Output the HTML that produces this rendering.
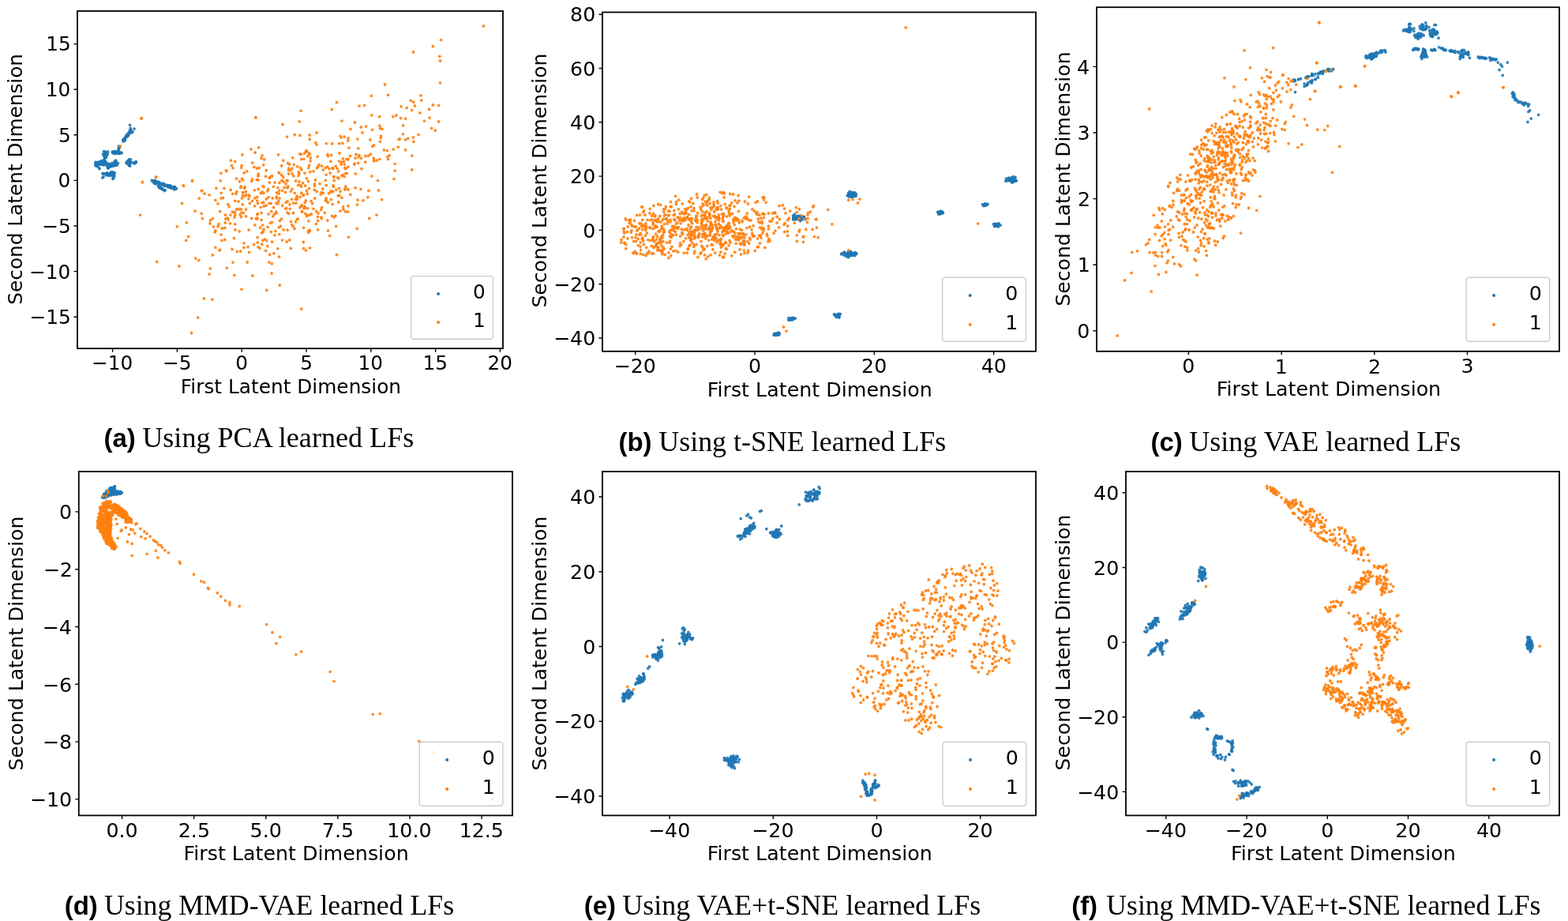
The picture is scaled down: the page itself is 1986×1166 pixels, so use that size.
<!DOCTYPE html><html><head><meta charset="utf-8"><style>html,body{margin:0;padding:0;background:#fff;}svg{display:block;}.t{font-family:"DejaVu Sans","Liberation Sans",sans-serif;fill:#000;}.cb{font-family:"Liberation Sans",sans-serif;font-weight:bold;fill:#000;}.cs{font-family:"Liberation Serif",serif;fill:#000;}</style></head><body>
<svg width="1986" height="1166" viewBox="0 0 1986 1166">
<rect width="1986" height="1166" fill="#fff"/>
<g><g stroke="#1f77b4" stroke-width="3.8" stroke-linecap="round" fill="none" stroke-opacity="0.9"><path d="M160.3 171.4h0M156.4 177.4h0M163.6 169.2h0M157.1 178.0h0M156.2 179.1h0M164.5 158.3h0M151.4 186.5h0M150.1 188.6h0M144.4 191.9h0M150.9 193.7h0M142.4 192.2h0M132.1 196.4h0M130.5 195.2h0M134.3 193.1h0M132.6 197.4h0M134.5 199.5h0M127.8 205.3h0M126.5 208.0h0M128.9 208.2h0M123.6 205.5h0M133.2 204.7h0M130.4 206.2h0M122.4 210.6h0M149.5 206.8h0M140.2 210.3h0M148.8 206.2h0M141.0 210.3h0M145.4 207.2h0M145.9 205.5h0M137.2 213.1h0M137.9 210.9h0M145.0 222.6h0M130.4 219.5h0M144.0 220.7h0M140.1 218.5h0M139.5 220.8h0M142.7 222.7h0M164.6 206.1h0M168.5 206.0h0M165.7 206.1h0M162.5 203.3h0M160.0 206.2h0M162.6 207.8h0M197.4 231.8h0M216.8 236.7h0M220.7 239.8h0M219.4 237.1h0M201.8 232.7h0M196.0 231.2h0M211.8 235.4h0M215.3 234.6h0M208.0 233.0h0M212.0 236.1h0M222.3 239.3h0M201.8 237.3h0M202.1 236.9h0M204.3 238.3h0"/><path d="M158.0 177.0h0M160.2 173.1h0M163.8 167.8h0M161.5 171.0h0M163.2 170.2h0M165.2 162.4h0M150.7 188.0h0M149.4 191.7h0M143.0 193.6h0M152.0 192.9h0M147.0 193.9h0M133.2 193.5h0M133.7 199.1h0M133.1 191.9h0M132.8 199.7h0M129.9 203.7h0M128.3 208.2h0M132.0 202.7h0M130.5 203.8h0M123.9 205.6h0M123.3 208.4h0M132.4 208.0h0M126.1 213.6h0M145.8 207.0h0M139.4 209.0h0M142.5 210.3h0M146.0 207.7h0M139.5 211.3h0M146.6 203.8h0M136.8 209.8h0M138.0 210.2h0M134.4 221.8h0M138.1 222.5h0M135.4 221.7h0M139.4 222.1h0M141.1 220.3h0M143.6 224.9h0M164.3 206.4h0M172.0 205.8h0M161.0 206.1h0M160.6 204.8h0M161.0 207.0h0M200.6 231.7h0M200.1 231.7h0M203.4 232.3h0M220.6 238.0h0M213.0 234.9h0M214.5 236.5h0M215.9 236.0h0M214.8 237.2h0M197.1 231.2h0M208.3 235.1h0M218.8 237.9h0M216.5 238.1h0M200.7 235.4h0M202.1 237.9h0"/><path d="M159.1 174.1h0M157.2 177.7h0M161.4 170.6h0M156.5 178.0h0M157.9 176.8h0M170.0 163.1h0M150.5 185.2h0M146.2 192.3h0M147.6 192.1h0M153.9 193.6h0M145.9 192.5h0M132.8 198.6h0M131.5 191.8h0M135.9 196.0h0M133.1 196.9h0M127.7 204.4h0M132.2 205.3h0M130.8 206.4h0M132.7 207.8h0M122.8 208.8h0M121.0 205.5h0M133.9 204.6h0M125.4 212.5h0M136.7 207.6h0M138.1 207.4h0M148.2 209.2h0M137.4 209.2h0M138.3 210.5h0M145.3 205.5h0M135.9 209.8h0M136.6 212.4h0M140.6 221.4h0M140.4 220.0h0M132.4 220.1h0M140.9 217.8h0M136.4 219.9h0M143.3 222.5h0M164.3 205.2h0M165.3 204.7h0M171.5 205.3h0M163.1 203.8h0M160.7 206.1h0M218.6 237.8h0M193.1 228.8h0M195.1 231.7h0M200.5 230.2h0M196.1 229.8h0M195.7 230.7h0M215.1 236.7h0M197.4 231.4h0M195.2 229.7h0M211.8 234.3h0M210.0 235.4h0M208.7 235.0h0M203.9 237.9h0M201.5 236.7h0"/><path d="M161.2 170.1h0M158.5 177.6h0M155.9 176.8h0M161.4 172.3h0M164.2 165.5h0M166.6 167.9h0M148.9 192.2h0M152.3 194.1h0M153.8 193.4h0M151.4 194.2h0M142.8 193.6h0M133.6 196.0h0M132.5 199.3h0M133.3 193.4h0M134.5 193.9h0M124.4 206.0h0M135.1 206.7h0M129.7 206.4h0M122.4 207.0h0M126.0 205.2h0M128.1 205.5h0M128.0 206.4h0M142.0 206.4h0M145.3 207.9h0M140.3 209.8h0M140.2 207.8h0M144.5 209.7h0M146.5 206.3h0M144.1 208.4h0M136.8 210.1h0M137.1 220.7h0M143.8 219.6h0M136.2 219.7h0M132.7 219.8h0M130.2 220.0h0M143.0 226.6h0M130.9 224.1h0M170.5 207.0h0M172.2 204.9h0M163.3 202.3h0M163.8 202.0h0M164.7 210.1h0M197.5 232.8h0M202.1 232.9h0M200.7 231.3h0M200.7 230.8h0M205.7 232.2h0M223.4 238.7h0M221.8 237.5h0M205.9 233.8h0M221.3 236.5h0M202.7 231.8h0M197.9 230.2h0M205.9 232.5h0M204.9 238.0h0M208.9 240.3h0"/><path d="M157.0 177.1h0M156.7 177.6h0M165.7 164.5h0M160.0 173.2h0M158.2 176.3h0M162.5 168.6h0M150.9 187.1h0M150.8 194.4h0M150.5 192.6h0M145.7 194.7h0M150.3 192.2h0M131.9 197.6h0M136.7 192.2h0M133.9 193.4h0M136.1 195.1h0M123.8 208.5h0M132.2 202.9h0M131.2 209.0h0M120.8 207.3h0M131.4 204.8h0M129.1 206.8h0M124.2 207.5h0M138.5 208.6h0M135.3 209.9h0M138.0 210.9h0M136.5 208.6h0M143.5 209.8h0M146.6 203.2h0M145.7 204.3h0M137.0 211.7h0M140.7 220.7h0M136.4 221.2h0M143.3 217.8h0M141.1 219.1h0M135.8 219.2h0M144.0 225.1h0M129.8 225.1h0M163.6 205.5h0M170.9 205.8h0M165.5 201.8h0M162.7 204.9h0M164.2 209.6h0M218.8 236.9h0M221.0 237.2h0M213.1 236.5h0M193.1 229.3h0M217.4 237.8h0M203.3 233.3h0M197.5 229.6h0M206.4 233.7h0M196.4 228.5h0M206.0 233.6h0M221.1 238.7h0M192.3 228.3h0M203.0 236.9h0M206.4 239.8h0"/><path d="M166.5 166.5h0M158.8 174.3h0M159.3 172.9h0M162.1 172.1h0M157.8 174.8h0M168.0 166.9h0M150.0 190.4h0M144.7 191.6h0M148.7 194.1h0M149.4 193.4h0M147.5 193.2h0M133.2 199.1h0M132.8 199.7h0M131.6 195.6h0M135.1 194.8h0M124.1 208.7h0M123.1 210.2h0M126.5 208.2h0M128.3 204.0h0M130.7 203.4h0M128.4 206.9h0M121.0 209.7h0M142.4 209.2h0M145.0 205.0h0M146.2 209.4h0M138.3 208.2h0M139.7 210.1h0M145.2 208.0h0M136.5 209.2h0M139.3 209.8h0M137.5 221.3h0M145.4 218.9h0M135.3 219.1h0M139.3 220.2h0M138.0 221.1h0M142.8 223.0h0M162.5 205.7h0M164.4 205.2h0M172.3 204.9h0M164.0 201.9h0M164.3 209.4h0M163.6 209.5h0M194.4 229.2h0M195.9 230.7h0M215.8 235.7h0M200.9 230.9h0M216.3 236.7h0M195.6 230.6h0M196.1 232.2h0M208.4 234.2h0M215.2 236.1h0M195.4 230.3h0M220.7 238.1h0M208.6 241.5h0M200.6 235.2h0M205.2 239.8h0"/></g><g stroke="#ff7f0e" stroke-width="3.8" stroke-linecap="round" fill="none" stroke-opacity="0.9"><path d="M303.2 292.9h0M457.0 239.6h0M423.1 228.5h0M356.6 277.1h0M404.0 208.6h0M398.8 251.0h0M413.2 250.8h0M382.3 267.8h0M416.8 213.5h0M343.8 267.6h0M256.4 276.7h0M333.9 256.1h0M439.3 219.8h0M331.8 309.2h0M438.0 238.4h0M436.1 223.6h0M380.0 262.8h0M390.7 212.6h0M388.8 273.8h0M327.0 222.7h0M311.8 246.9h0M368.5 280.3h0M413.3 254.4h0M319.6 206.2h0M419.2 242.0h0M387.5 254.0h0M363.2 306.2h0M421.9 212.9h0M299.6 265.1h0M380.0 171.4h0M333.0 235.7h0M334.0 290.4h0M331.1 200.5h0M376.7 210.9h0M272.9 292.0h0M385.3 261.5h0M305.7 212.3h0M306.1 209.7h0M370.4 213.1h0M412.5 228.3h0M312.7 216.9h0M392.4 313.8h0M407.7 262.6h0M309.5 238.3h0M357.7 241.3h0M337.4 252.0h0M307.3 258.9h0M318.7 229.4h0M340.3 249.7h0M332.1 196.9h0M347.9 297.8h0M333.9 236.7h0M327.0 312.8h0M452.9 176.1h0M381.8 201.6h0M363.9 237.5h0M330.4 244.5h0M325.6 213.2h0M277.1 283.7h0M433.0 250.3h0M392.4 292.6h0M384.6 314.5h0M422.9 223.8h0M373.0 289.5h0M297.9 290.9h0M288.3 276.2h0M429.8 247.5h0M473.6 203.9h0M377.4 277.2h0M307.6 227.9h0M419.0 204.3h0M457.4 200.3h0M385.6 194.0h0M322.0 211.5h0M335.3 302.9h0M381.5 195.3h0M413.2 234.7h0M407.3 276.7h0M338.9 241.9h0M434.9 221.4h0M473.7 203.0h0M422.0 234.8h0M448.8 207.9h0M533.7 127.1h0M520.4 127.5h0M483.9 163.3h0M459.0 168.0h0M544.0 149.1h0M523.5 66.0h0M533.0 120.9h0M426.5 129.7h0M521.7 139.6h0M523.9 179.5h0M198.7 331.5h0M255.5 241.8h0M354.3 361.1h0M467.8 276.5h0M247.8 327.1h0M344.1 346.1h0M491.6 201.5h0M508.1 134.8h0M444.0 163.4h0M243.4 228.7h0M283.9 238.3h0M299.0 245.4h0M297.6 204.3h0"/><path d="M407.5 210.1h0M353.1 245.2h0M278.0 316.8h0M362.7 263.6h0M413.2 221.3h0M380.2 249.3h0M382.9 268.2h0M356.6 221.7h0M255.3 270.3h0M390.4 292.7h0M322.7 250.8h0M313.2 332.0h0M280.2 297.1h0M432.2 174.1h0M469.4 195.2h0M325.8 271.5h0M415.0 195.5h0M316.4 257.4h0M307.4 247.6h0M351.9 314.8h0M294.7 245.4h0M325.4 227.5h0M259.0 245.2h0M292.2 240.5h0M269.3 276.9h0M276.0 286.7h0M308.0 243.6h0M326.6 257.4h0M350.5 244.0h0M318.7 276.5h0M332.9 304.3h0M330.3 262.3h0M392.9 217.7h0M362.1 232.7h0M281.9 288.8h0M380.7 234.5h0M400.7 267.7h0M315.1 247.1h0M431.1 172.4h0M299.8 242.7h0M373.2 244.3h0M297.5 269.0h0M406.8 265.5h0M366.8 304.0h0M478.5 228.6h0M310.1 248.2h0M356.6 209.9h0M288.9 258.7h0M341.2 257.3h0M389.3 245.5h0M327.7 186.8h0M360.2 237.5h0M350.1 269.9h0M376.3 277.7h0M423.2 275.0h0M266.4 279.0h0M402.6 290.9h0M401.6 212.7h0M366.1 213.2h0M359.0 230.0h0M325.7 254.1h0M397.1 216.8h0M315.6 319.6h0M434.8 265.1h0M438.9 201.6h0M440.7 268.2h0M272.9 313.4h0M370.0 219.9h0M344.5 222.8h0M411.3 269.5h0M281.0 289.2h0M305.2 235.8h0M437.4 267.9h0M425.6 286.4h0M460.0 254.0h0M453.0 253.2h0M466.7 197.2h0M421.2 258.6h0M440.7 201.8h0M421.0 213.0h0M427.1 213.4h0M470.9 222.9h0M471.5 164.3h0M471.8 185.4h0M516.7 175.3h0M463.6 160.1h0M473.2 200.3h0M462.9 197.5h0M556.8 71.5h0M470.4 121.3h0M420.2 138.5h0M531.9 142.9h0M521.7 197.1h0M226.9 337.0h0M258.4 378.0h0M337.8 367.4h0M477.0 272.1h0M251.8 329.6h0M287.3 339.2h0M479.5 241.0h0M513.6 150.2h0M433.0 153.1h0M232.2 235.1h0M279.1 228.9h0M311.6 242.7h0M293.5 209.7h0"/><path d="M291.5 282.8h0M305.0 237.7h0M285.2 282.0h0M353.6 218.8h0M437.7 236.2h0M363.5 228.5h0M451.1 195.5h0M361.8 264.3h0M382.3 259.7h0M384.4 306.5h0M388.5 225.8h0M436.3 208.1h0M429.4 238.4h0M294.0 315.4h0M341.4 225.6h0M327.0 228.0h0M269.3 322.9h0M415.3 256.4h0M346.9 320.9h0M391.5 238.6h0M339.7 239.7h0M280.2 251.0h0M326.3 300.6h0M417.7 298.4h0M350.0 257.2h0M387.3 192.1h0M384.8 201.4h0M297.9 272.5h0M306.0 269.1h0M406.9 275.2h0M443.8 246.4h0M402.6 279.5h0M344.4 333.8h0M309.1 307.8h0M374.9 257.1h0M281.0 304.6h0M344.4 222.8h0M302.0 255.1h0M309.1 218.9h0M327.2 239.5h0M282.4 250.6h0M425.4 210.3h0M345.2 250.9h0M362.1 256.4h0M315.1 291.1h0M371.7 257.2h0M348.2 231.1h0M353.9 231.4h0M441.0 240.0h0M370.7 199.8h0M322.9 284.9h0M400.4 283.4h0M327.3 222.6h0M339.2 287.3h0M385.9 219.2h0M384.1 247.4h0M270.4 287.2h0M379.8 194.9h0M340.2 271.0h0M422.3 236.5h0M389.9 263.8h0M326.5 270.8h0M327.2 220.1h0M462.8 205.2h0M391.6 209.5h0M359.1 290.9h0M388.7 191.6h0M315.0 251.8h0M434.5 200.8h0M391.3 193.9h0M352.6 195.9h0M429.1 225.7h0M419.5 196.4h0M325.8 249.4h0M452.6 259.2h0M368.3 314.4h0M322.6 240.8h0M322.6 260.8h0M428.8 216.8h0M449.1 207.4h0M486.4 189.9h0M491.0 198.6h0M438.0 219.3h0M493.2 196.8h0M523.5 174.1h0M481.4 179.2h0M515.2 136.6h0M482.2 174.4h0M557.5 77.0h0M548.4 133.0h0M381.0 140.3h0M555.7 153.9h0M521.7 215.0h0M224.3 286.8h0M269.0 379.1h0M306.0 366.3h0M483.6 252.7h0M265.0 347.2h0M197.6 224.5h0M513.6 176.9h0M537.4 153.1h0M152.2 185.0h0M255.5 241.3h0M279.8 219.3h0M317.9 188.9h0M295.1 212.8h0"/><path d="M403.1 270.1h0M369.5 252.3h0M284.8 288.5h0M380.6 212.5h0M358.8 224.3h0M303.4 265.1h0M353.5 325.1h0M431.1 242.4h0M429.7 181.7h0M319.6 254.4h0M405.0 232.7h0M319.7 227.0h0M322.9 193.1h0M393.4 200.1h0M337.3 215.7h0M252.3 251.1h0M344.6 306.2h0M392.2 176.5h0M418.1 219.0h0M351.9 257.9h0M331.1 269.3h0M304.7 318.1h0M413.3 181.7h0M266.0 283.0h0M364.5 237.3h0M414.7 211.1h0M355.7 286.3h0M350.5 251.1h0M468.8 176.9h0M383.7 231.6h0M419.3 252.7h0M307.4 243.7h0M378.9 230.0h0M398.5 235.6h0M376.2 249.9h0M349.0 292.7h0M381.0 261.7h0M454.2 198.7h0M353.2 218.6h0M310.2 236.7h0M374.5 280.9h0M436.8 212.7h0M409.2 215.1h0M367.0 258.9h0M399.4 228.0h0M334.4 261.0h0M465.9 249.7h0M441.1 175.0h0M285.5 272.2h0M356.9 228.5h0M466.9 241.4h0M407.3 243.6h0M402.9 210.9h0M329.6 288.2h0M427.5 224.8h0M323.1 193.2h0M332.6 285.1h0M399.7 180.6h0M345.8 273.9h0M247.1 267.2h0M424.9 273.4h0M365.6 215.4h0M386.2 256.4h0M401.0 183.1h0M366.7 208.1h0M425.8 240.3h0M432.9 222.5h0M326.2 307.0h0M341.7 224.3h0M416.4 244.9h0M331.7 294.7h0M339.0 311.7h0M337.8 304.7h0M419.0 243.1h0M285.7 277.0h0M392.3 291.3h0M303.5 229.9h0M311.7 273.9h0M415.5 197.7h0M433.9 181.4h0M432.2 208.2h0M477.1 203.2h0M482.5 172.1h0M507.5 149.6h0M510.7 158.8h0M506.2 176.0h0M505.1 176.6h0M612.5 33.0h0M557.5 104.8h0M555.7 133.4h0M379.2 153.9h0M546.6 162.3h0M179.3 149.5h0M230.6 257.5h0M250.7 402.1h0M426.5 322.7h0M236.4 282.0h0M266.4 339.9h0M500.1 207.3h0M513.6 189.8h0M470.8 145.8h0M197.5 224.1h0M265.1 246.8h0M287.0 216.6h0M306.9 196.0h0M299.6 226.2h0"/><path d="M280.1 244.3h0M343.3 257.6h0M324.4 276.7h0M453.8 187.8h0M409.4 244.4h0M414.8 279.1h0M389.0 272.4h0M384.6 288.3h0M371.6 269.3h0M420.5 273.3h0M346.5 262.5h0M374.2 252.2h0M333.8 208.8h0M316.0 248.3h0M278.6 316.4h0M364.2 255.0h0M394.4 271.0h0M365.5 270.5h0M375.9 248.1h0M371.9 222.8h0M422.8 223.8h0M377.7 234.5h0M412.2 212.5h0M340.9 332.1h0M364.1 228.7h0M381.7 236.3h0M401.0 168.0h0M421.4 213.5h0M371.1 286.6h0M361.5 243.4h0M371.6 269.8h0M389.8 197.5h0M390.7 294.3h0M286.3 215.8h0M296.9 268.7h0M305.4 274.7h0M352.9 254.7h0M387.4 317.1h0M353.6 241.3h0M308.3 269.6h0M398.3 240.4h0M364.8 236.1h0M289.1 278.2h0M431.0 267.1h0M336.6 223.4h0M296.5 301.4h0M358.8 203.2h0M381.7 244.2h0M331.9 294.7h0M331.2 278.4h0M384.5 246.8h0M328.2 212.7h0M365.7 220.0h0M402.5 274.4h0M291.8 272.3h0M436.9 240.0h0M435.3 204.4h0M392.2 171.0h0M392.3 272.1h0M388.5 241.7h0M353.8 296.6h0M297.0 275.0h0M354.4 279.4h0M421.7 242.5h0M390.5 229.4h0M284.7 303.5h0M341.5 231.1h0M364.0 291.2h0M374.7 229.0h0M395.6 257.7h0M357.8 260.4h0M428.3 247.8h0M441.0 260.7h0M278.6 267.7h0M311.6 265.2h0M378.9 219.5h0M321.7 309.5h0M305.4 264.8h0M436.1 173.2h0M441.9 187.1h0M450.4 220.1h0M450.1 200.2h0M543.6 138.5h0M501.9 146.0h0M481.0 159.2h0M481.6 162.7h0M525.4 134.0h0M558.6 50.6h0M487.6 107.0h0M455.0 134.1h0M358.0 157.5h0M551.3 165.2h0M180.4 230.8h0M243.7 228.9h0M242.6 421.5h0M441.5 300.3h0M238.6 299.6h0M296.8 348.3h0M500.1 216.1h0M504.4 186.1h0M480.6 147.7h0M180.3 230.3h0M272.9 253.4h0M297.6 254.3h0M323.7 148.7h0M306.5 226.2h0"/><path d="M406.2 246.1h0M386.5 263.6h0M388.0 190.6h0M398.5 233.0h0M443.5 197.5h0M428.7 256.0h0M392.3 195.2h0M333.5 293.0h0M402.3 198.2h0M401.1 242.5h0M397.1 264.4h0M480.7 201.6h0M363.6 173.3h0M290.1 261.4h0M450.0 237.8h0M357.6 304.1h0M373.2 170.7h0M325.6 277.3h0M370.1 239.3h0M376.1 252.5h0M346.3 236.4h0M429.9 194.0h0M333.9 244.7h0M382.1 214.8h0M336.6 317.5h0M390.9 279.8h0M415.6 292.1h0M300.5 318.4h0M412.4 253.5h0M384.9 263.7h0M304.1 271.7h0M378.1 222.4h0M367.3 264.3h0M386.6 235.2h0M332.1 256.8h0M354.1 251.1h0M420.8 182.0h0M334.7 201.9h0M343.4 293.6h0M437.9 213.7h0M349.9 268.1h0M276.0 257.9h0M342.4 282.3h0M295.0 332.2h0M455.1 196.6h0M325.9 276.0h0M344.5 281.3h0M369.8 284.3h0M386.8 270.5h0M368.3 215.6h0M300.2 264.7h0M364.0 269.2h0M353.4 287.9h0M364.7 206.7h0M432.8 205.3h0M434.6 261.9h0M297.7 283.8h0M429.7 204.2h0M408.9 239.0h0M386.2 261.9h0M372.3 208.3h0M332.4 243.1h0M393.1 203.9h0M352.0 237.6h0M378.3 217.8h0M329.1 314.1h0M294.3 268.4h0M314.1 312.6h0M394.1 254.6h0M347.5 271.2h0M309.0 313.5h0M272.3 293.9h0M440.9 211.2h0M341.8 322.3h0M440.8 178.1h0M337.1 260.2h0M368.3 242.3h0M350.1 249.1h0M457.2 161.0h0M440.6 201.5h0M453.7 206.3h0M457.9 213.7h0M490.4 190.6h0M473.7 183.9h0M523.9 129.3h0M510.3 169.8h0M498.2 189.1h0M548.4 58.7h0M491.6 120.2h0M461.6 133.4h0M323.9 148.7h0M530.1 170.7h0M177.5 272.1h0M232.7 235.2h0M381.8 391.2h0M452.1 289.4h0M235.7 304.4h0M319.9 349.0h0M499.0 226.4h0M497.9 147.7h0M449.5 155.0h0M178.9 150.1h0M273.9 238.3h0M306.5 250.9h0M292.5 203.2h0"/></g><rect x="98.0" y="14.0" width="539.0" height="427.2" fill="none" stroke="#000" stroke-width="1.8"/><path d="M142.6 441.2v4.5M224.4 441.2v4.5M306.2 441.2v4.5M388.0 441.2v4.5M469.8 441.2v4.5M551.6 441.2v4.5M633.4 441.2v4.5M98.0 401.2h-4.5M98.0 343.6h-4.5M98.0 286.0h-4.5M98.0 228.4h-4.5M98.0 170.8h-4.5M98.0 113.2h-4.5M98.0 55.6h-4.5" stroke="#000" stroke-width="1.4" fill="none"/><text class="t" x="115.94" y="468.25" font-size="24.80">−10</text><text class="t" x="205.89" y="468.25" font-size="24.80">−5</text><text class="t" x="298.31" y="468.25" font-size="24.80">0</text><text class="t" x="380.24" y="468.25" font-size="24.80">5</text><text class="t" x="453.48" y="468.25" font-size="24.80">10</text><text class="t" x="535.54" y="468.25" font-size="24.80">15</text><text class="t" x="617.54" y="468.25" font-size="24.80">20</text><text class="t" x="37.43" y="410.07" font-size="24.80">−15</text><text class="t" x="36.91" y="352.63" font-size="24.80">−10</text><text class="t" x="53.20" y="294.87" font-size="24.80">−5</text><text class="t" x="73.46" y="237.43" font-size="24.80">0</text><text class="t" x="73.98" y="179.67" font-size="24.80">5</text><text class="t" x="57.69" y="122.23" font-size="24.80">10</text><text class="t" x="58.21" y="64.47" font-size="24.80">15</text><text class="t" x="228.87" y="497.55" font-size="24.819">First Latent Dimension</text><text class="t" transform="translate(28.25 385.63) rotate(-90)" font-size="24.756">Second Latent Dimension</text><rect x="520.7" y="349.6" width="103.8" height="79.6" rx="3.5" ry="3.5" fill="#fff" fill-opacity="0.8" stroke="#cccccc" stroke-width="1.4"/><circle cx="555.1" cy="371.9" r="2" fill="#1f77b4"/><circle cx="555.1" cy="408.1" r="2" fill="#ff7f0e"/><text class="t" x="598.90" y="378.12" font-size="24.80">0</text><text class="t" x="598.90" y="414.32" font-size="24.80">1</text><text class="cb" x="131.45" y="566.10" font-size="33.00">(a)</text><text class="cs" x="180.24" y="566.10" font-size="36.121">Using PCA learned LFs</text></g>
<g><g stroke="#1f77b4" stroke-width="3.8" stroke-linecap="round" fill="none" stroke-opacity="0.9"><path d="M1011.6 274.2h0M1010.4 273.6h0M1011.4 276.8h0M1011.2 276.8h0M1009.9 276.2h0M1008.4 276.0h0M1009.9 276.3h0M1020.0 277.5h0M1075.8 249.2h0M1079.0 246.9h0M1084.0 248.2h0M1073.7 247.4h0M1079.5 243.7h0M1082.0 248.1h0M1076.4 242.5h0M1078.5 321.2h0M1077.6 318.5h0M1073.2 323.8h0M1073.0 321.1h0M1076.6 322.7h0M1071.8 322.9h0M1076.4 321.7h0M1074.6 325.8h0M1192.2 268.8h0M1190.0 271.0h0M1190.2 269.6h0M1249.2 258.9h0M1246.2 260.1h0M1248.5 260.1h0M1280.7 226.9h0M1284.1 228.1h0M1277.6 227.4h0M1276.0 226.3h0M1287.3 228.9h0M1279.5 227.6h0M1263.1 285.6h0M1262.4 286.0h0M1264.7 284.9h0M1259.7 283.9h0M1060.3 400.7h0M1056.7 398.0h0M1060.3 400.2h0M1061.7 401.1h0M1004.8 402.9h0M1000.3 403.9h0M998.9 405.2h0M984.6 423.6h0M985.2 423.0h0M982.9 423.4h0M984.3 423.6h0"/><path d="M1014.6 275.1h0M1010.6 275.9h0M1015.7 274.3h0M1011.9 275.8h0M1004.6 275.7h0M1014.0 276.8h0M1013.7 277.5h0M1006.4 271.3h0M1074.6 247.5h0M1081.6 247.8h0M1075.3 245.6h0M1079.5 248.1h0M1078.2 246.3h0M1074.8 247.1h0M1074.6 244.4h0M1076.9 323.7h0M1072.2 322.2h0M1072.4 321.3h0M1073.2 322.7h0M1076.3 320.6h0M1084.9 321.3h0M1065.6 321.8h0M1190.1 270.0h0M1192.3 267.7h0M1192.4 268.8h0M1190.6 270.9h0M1251.0 258.3h0M1246.6 258.9h0M1248.9 259.3h0M1286.1 227.5h0M1283.7 226.1h0M1281.2 228.2h0M1281.5 224.9h0M1280.3 229.3h0M1277.6 226.5h0M1259.8 283.9h0M1264.1 286.0h0M1258.5 283.6h0M1264.0 285.1h0M1060.6 400.8h0M1059.9 399.6h0M1062.0 401.1h0M1000.3 404.6h0M999.3 404.1h0M1003.2 403.5h0M1004.7 402.6h0M983.0 423.9h0M981.1 424.3h0M980.8 422.5h0M986.4 423.8h0"/><path d="M1007.4 273.9h0M1014.0 276.2h0M1006.7 275.5h0M1013.7 276.7h0M1016.0 278.0h0M1015.4 276.4h0M1013.6 279.7h0M1081.5 244.1h0M1079.6 244.0h0M1084.3 246.1h0M1082.5 243.9h0M1079.4 249.0h0M1082.1 247.4h0M1081.0 247.7h0M1072.7 322.5h0M1075.1 320.7h0M1079.6 323.4h0M1082.8 319.8h0M1078.7 322.7h0M1069.6 320.0h0M1069.6 321.9h0M1084.4 320.6h0M1194.4 269.2h0M1191.4 267.5h0M1188.7 269.4h0M1189.6 268.7h0M1244.4 258.8h0M1245.8 260.3h0M1245.7 260.5h0M1280.6 228.2h0M1283.0 229.1h0M1281.6 230.3h0M1283.5 230.3h0M1279.5 226.4h0M1283.6 223.7h0M1262.0 284.1h0M1262.8 283.8h0M1267.2 285.2h0M1264.9 282.9h0M1064.2 397.4h0M1056.6 398.3h0M1061.3 399.6h0M1001.0 404.9h0M1005.5 403.8h0M1004.0 402.9h0M1003.4 405.0h0M986.9 421.8h0M980.1 424.1h0M981.8 422.5h0M985.6 423.6h0"/><path d="M1005.8 277.5h0M1004.7 277.9h0M1013.1 275.1h0M1013.4 275.2h0M1012.4 273.8h0M1006.6 277.4h0M1018.5 274.3h0M1079.4 248.7h0M1078.3 249.3h0M1083.9 245.3h0M1078.7 245.1h0M1080.5 246.2h0M1082.3 247.1h0M1076.9 246.2h0M1074.2 322.0h0M1078.5 319.6h0M1069.5 319.1h0M1074.6 321.0h0M1076.9 319.8h0M1083.4 321.8h0M1080.7 321.5h0M1083.6 321.1h0M1190.4 268.0h0M1192.2 270.0h0M1194.1 269.6h0M1190.5 268.0h0M1246.2 259.6h0M1246.4 260.2h0M1284.8 229.6h0M1278.8 228.6h0M1279.4 228.8h0M1279.7 228.9h0M1280.7 227.2h0M1281.8 228.7h0M1285.9 224.4h0M1264.4 287.0h0M1261.3 285.9h0M1262.2 284.5h0M1060.1 400.1h0M1062.7 398.4h0M1062.7 400.4h0M1063.7 397.8h0M1001.7 403.2h0M1005.0 402.3h0M1002.6 403.3h0M1002.5 403.2h0M984.1 422.6h0M983.3 423.7h0M986.0 421.1h0"/><path d="M1018.0 274.6h0M1014.7 276.3h0M1011.0 277.7h0M1007.7 277.8h0M1013.9 277.2h0M1019.8 277.4h0M1004.5 273.1h0M1076.0 245.7h0M1082.6 245.1h0M1079.6 249.1h0M1075.7 244.1h0M1076.1 247.1h0M1081.5 247.0h0M1079.8 247.0h0M1074.2 324.5h0M1082.9 323.5h0M1073.6 322.3h0M1080.3 322.8h0M1083.2 321.9h0M1074.1 319.5h0M1076.9 322.5h0M1072.3 322.2h0M1191.0 269.4h0M1193.2 268.2h0M1188.7 270.9h0M1192.8 269.7h0M1247.5 260.4h0M1246.9 259.4h0M1279.2 226.9h0M1273.7 229.2h0M1274.4 226.1h0M1282.0 225.5h0M1277.8 225.2h0M1282.2 227.6h0M1282.2 225.2h0M1260.5 283.4h0M1262.3 285.5h0M1259.8 286.5h0M1060.7 398.4h0M1062.9 399.2h0M1060.1 398.2h0M1062.8 402.0h0M1003.7 403.7h0M999.8 404.3h0M1002.7 402.6h0M1002.9 403.4h0M986.1 423.7h0M984.7 421.7h0M981.0 423.9h0"/><path d="M1009.9 276.5h0M1011.5 273.7h0M1009.0 275.9h0M1010.1 274.2h0M1009.6 276.4h0M1013.8 273.2h0M1005.6 277.5h0M1077.8 246.6h0M1082.8 247.2h0M1079.0 246.9h0M1080.4 246.8h0M1077.9 246.7h0M1073.3 247.8h0M1082.6 248.5h0M1066.5 320.6h0M1083.0 319.9h0M1070.7 322.0h0M1073.7 321.7h0M1075.8 320.1h0M1068.8 322.9h0M1078.8 320.6h0M1072.0 324.7h0M1188.4 269.0h0M1193.1 269.8h0M1187.6 268.3h0M1249.9 259.0h0M1247.9 257.8h0M1250.2 259.1h0M1277.1 228.4h0M1275.8 228.9h0M1286.1 228.7h0M1280.3 228.3h0M1279.7 225.7h0M1281.9 231.0h0M1259.3 285.5h0M1265.0 283.6h0M1261.5 283.7h0M1259.8 285.3h0M1062.7 401.1h0M1059.0 401.4h0M1058.5 400.6h0M1062.3 397.3h0M1007.4 403.1h0M999.1 402.7h0M1003.7 404.0h0M984.2 423.9h0M981.2 423.0h0M986.9 423.2h0M983.0 423.2h0"/></g><g stroke="#ff7f0e" stroke-width="3.8" stroke-linecap="round" fill="none" stroke-opacity="0.9"><path d="M827.1 300.3h0M832.6 316.8h0M872.5 271.7h0M892.4 315.5h0M880.3 291.3h0M915.2 276.7h0M883.7 291.3h0M895.1 267.9h0M1008.4 262.7h0M942.9 300.7h0M816.6 286.5h0M910.8 276.0h0M877.9 257.7h0M867.6 264.6h0M916.0 243.4h0M823.2 264.4h0M879.7 294.9h0M882.4 246.0h0M855.5 248.3h0M894.2 327.7h0M825.7 277.8h0M1012.2 293.2h0M954.6 298.4h0M796.3 278.7h0M916.9 272.9h0M868.2 268.1h0M935.6 303.3h0M935.2 247.5h0M826.9 289.4h0M937.3 308.2h0M829.8 286.0h0M803.7 286.8h0M997.7 286.1h0M905.7 284.3h0M918.2 321.1h0M888.6 282.2h0M959.5 254.9h0M927.6 292.2h0M814.8 268.6h0M978.7 270.1h0M803.5 279.4h0M904.6 260.5h0M819.4 295.1h0M829.8 311.6h0M981.9 292.3h0M901.1 292.3h0M797.4 282.6h0M863.3 278.1h0M876.0 266.8h0M917.1 249.9h0M877.3 308.0h0M1017.3 299.9h0M901.6 292.3h0M934.1 256.8h0M837.9 299.2h0M823.7 304.4h0M900.0 322.8h0M906.9 285.0h0M928.5 300.0h0M942.5 308.2h0M815.5 309.4h0M882.1 287.7h0M889.5 252.4h0M973.7 303.2h0M917.9 292.0h0M841.1 315.0h0M793.0 309.8h0M930.3 298.8h0M849.5 315.2h0M790.0 300.1h0M791.1 308.1h0M824.1 278.8h0M831.7 310.2h0M962.5 288.2h0M879.3 320.8h0M876.6 293.6h0M924.7 289.3h0M802.2 320.3h0M904.0 255.9h0M832.6 280.7h0M846.9 319.8h0M826.7 303.9h0M832.3 280.3h0M907.7 263.5h0M838.4 286.4h0M864.0 294.1h0M900.6 281.9h0M978.8 277.0h0M910.9 303.9h0M888.0 319.8h0M957.1 256.3h0M861.2 270.7h0M987.3 277.5h0M878.8 312.4h0M829.1 278.8h0M931.4 303.0h0M936.6 301.6h0M943.9 275.8h0M853.4 286.4h0M855.1 288.0h0M914.7 271.0h0M893.1 276.6h0M890.6 260.3h0M848.7 305.2h0M872.5 295.5h0M916.1 279.9h0M889.7 279.7h0M924.8 287.4h0M892.2 290.6h0M849.2 299.1h0M881.5 276.1h0M873.9 310.5h0M973.4 289.8h0M900.7 282.9h0M891.7 296.4h0M849.3 291.3h0M834.1 307.4h0M948.7 308.2h0M869.8 289.5h0M925.5 293.4h0M898.8 287.2h0M935.4 278.2h0M922.9 266.5h0M868.6 301.8h0M1020.8 290.5h0M1086.4 256.9h0M992.4 414.0h0M1017.4 306.3h0"/><path d="M839.9 312.9h0M931.1 254.0h0M980.1 295.3h0M919.4 307.5h0M829.7 272.9h0M798.1 280.7h0M861.5 308.0h0M809.5 289.2h0M955.4 267.1h0M984.3 274.5h0M948.6 278.9h0M879.6 310.4h0M949.6 301.3h0M832.5 299.3h0M865.4 276.4h0M896.5 275.7h0M958.8 271.5h0M813.7 278.5h0M827.6 270.5h0M901.1 309.7h0M874.0 255.9h0M973.4 286.1h0M789.7 289.7h0M946.8 276.9h0M865.6 279.7h0M820.7 320.4h0M994.3 282.6h0M916.6 325.5h0M1015.3 272.8h0M954.1 286.0h0M906.9 286.6h0M908.5 254.6h0M872.8 254.9h0M862.7 309.9h0M839.6 297.9h0M875.6 287.4h0M813.3 261.6h0M848.2 267.3h0M916.2 298.5h0M790.9 307.2h0M875.0 303.2h0M1026.5 268.2h0M828.7 305.7h0M881.3 279.3h0M883.2 278.4h0M835.2 316.8h0M935.6 267.6h0M922.4 283.0h0M965.9 249.9h0M854.3 271.8h0M856.4 283.3h0M813.6 301.4h0M817.5 289.2h0M915.5 325.9h0M1034.4 288.2h0M840.7 264.9h0M870.2 291.6h0M790.9 295.2h0M795.3 286.9h0M806.5 321.2h0M928.1 298.6h0M800.0 291.8h0M874.3 289.6h0M947.2 320.0h0M859.4 264.8h0M792.5 278.1h0M876.8 282.8h0M913.1 309.1h0M1000.8 267.2h0M944.9 276.8h0M938.6 296.0h0M849.3 296.0h0M906.2 275.8h0M875.6 251.5h0M835.9 302.2h0M893.3 255.1h0M838.5 317.9h0M993.5 264.1h0M853.8 266.7h0M912.2 286.6h0M827.6 320.9h0M916.6 308.9h0M946.4 270.2h0M842.2 322.3h0M792.3 276.9h0M943.5 255.2h0M973.3 269.9h0M896.7 254.0h0M853.0 289.6h0M919.4 287.7h0M838.1 318.9h0M831.4 303.2h0M853.0 317.9h0M847.3 272.5h0M854.5 271.5h0M912.5 288.6h0M893.2 273.1h0M885.4 298.7h0M963.2 298.1h0M845.8 279.6h0M942.2 276.0h0M861.2 275.4h0M875.8 277.2h0M967.5 289.7h0M913.6 265.2h0M898.4 271.2h0M875.6 297.1h0M818.7 288.8h0M912.7 305.0h0M888.9 311.4h0M930.7 279.0h0M933.1 299.5h0M882.5 278.1h0M827.4 281.7h0M916.2 289.1h0M906.2 280.5h0M910.3 283.3h0M853.8 277.6h0M831.7 286.6h0M905.4 274.0h0M915.0 287.8h0M954.1 299.3h0M881.8 273.4h0M822.8 288.0h0M1009.3 297.8h0M1089.0 252.1h0M996.0 419.1h0M1029.2 290.4h0"/><path d="M912.1 243.3h0M888.3 282.6h0M879.8 318.2h0M931.9 277.0h0M864.3 279.0h0M899.9 276.4h0M961.8 272.1h0M918.2 258.4h0M795.1 302.1h0M947.6 317.2h0M908.3 288.7h0M805.2 300.5h0M896.8 324.8h0M841.1 292.3h0M930.8 319.2h0M892.1 297.1h0M997.4 293.0h0M963.8 276.2h0M986.6 287.9h0M807.0 291.5h0M798.6 278.2h0M850.1 300.3h0M800.8 286.3h0M871.6 263.4h0M962.9 282.0h0M943.0 320.6h0M872.2 285.8h0M984.3 282.0h0M864.3 257.9h0M915.6 297.4h0M908.4 275.1h0M947.1 305.8h0M935.9 254.2h0M889.7 268.0h0M818.8 313.5h0M830.7 296.2h0M902.7 262.4h0M964.0 301.2h0M856.4 297.2h0M1009.3 305.5h0M827.1 284.2h0M858.9 319.1h0M811.8 297.0h0M898.7 289.2h0M811.3 321.2h0M926.8 256.8h0M961.3 298.1h0M840.8 268.4h0M935.1 295.6h0M921.7 288.2h0M898.4 250.4h0M825.5 273.2h0M906.9 265.4h0M810.5 272.1h0M811.3 295.4h0M968.9 313.5h0M899.9 281.1h0M934.0 279.2h0M924.8 245.5h0M872.1 277.3h0M921.2 293.8h0M895.3 255.9h0M968.0 250.0h0M939.6 279.5h0M894.9 246.3h0M837.0 281.2h0M836.3 316.9h0M833.9 280.4h0M872.2 284.9h0M855.2 293.3h0M820.8 303.6h0M952.9 264.9h0M904.7 300.0h0M799.8 284.4h0M878.9 263.7h0M866.4 320.4h0M959.1 312.8h0M919.3 314.5h0M965.3 282.7h0M970.1 256.3h0M895.7 298.9h0M814.0 301.3h0M841.5 283.6h0M864.5 296.4h0M838.4 288.6h0M831.5 308.3h0M894.2 258.8h0M867.3 270.8h0M901.5 284.6h0M811.2 306.8h0M834.0 292.7h0M888.3 286.1h0M822.9 269.9h0M843.2 277.3h0M837.6 289.9h0M893.7 286.4h0M944.8 296.9h0M861.7 299.2h0M893.3 288.5h0M909.0 274.4h0M850.2 291.1h0M863.7 268.5h0M965.8 295.4h0M940.3 280.7h0M884.5 287.6h0M817.8 291.5h0M874.7 296.8h0M890.9 316.7h0M872.8 300.9h0M883.2 281.8h0M932.5 289.7h0M938.7 309.6h0M923.8 286.2h0M959.5 302.1h0M955.5 298.9h0M868.1 278.6h0M941.7 296.8h0M883.7 269.6h0M892.6 297.1h0M875.3 298.2h0M896.6 298.3h0M876.4 276.8h0M833.6 277.0h0M1017.9 299.5h0M1036.1 300.7h0M1048.8 265.4h0M1074.6 316.6h0M1006.4 282.3h0"/><path d="M932.2 308.3h0M909.9 289.6h0M995.1 270.0h0M1012.3 264.8h0M911.6 323.1h0M807.2 291.8h0M956.3 317.4h0M832.9 313.2h0M825.4 320.9h0M806.6 272.5h0M884.3 300.5h0M993.7 293.6h0M944.9 274.0h0M887.2 262.1h0M826.9 302.3h0M925.0 259.8h0M827.7 299.6h0M814.8 304.9h0M941.3 304.8h0M966.5 270.4h0M871.2 315.3h0M814.8 322.4h0M844.4 276.7h0M830.8 278.8h0M1012.0 276.9h0M908.6 306.7h0M923.8 269.4h0M848.6 299.6h0M831.7 278.9h0M892.4 322.8h0M806.0 296.8h0M809.8 283.0h0M926.8 323.9h0M834.6 293.0h0M916.3 325.1h0M818.1 323.6h0M792.8 314.7h0M914.0 309.8h0M870.5 274.8h0M900.9 265.5h0M800.7 300.9h0M977.2 280.1h0M879.5 301.8h0M833.5 258.7h0M933.4 303.2h0M799.3 294.2h0M920.3 315.3h0M879.3 298.2h0M843.5 261.5h0M919.9 263.1h0M894.3 276.9h0M852.0 297.5h0M849.5 255.6h0M905.8 320.1h0M814.4 284.6h0M924.5 272.8h0M942.3 317.1h0M856.1 288.5h0M898.8 270.0h0M912.2 285.3h0M879.0 266.9h0M888.1 262.7h0M928.7 281.3h0M904.1 258.5h0M935.2 301.8h0M924.2 304.7h0M813.6 290.8h0M837.5 310.8h0M899.1 257.5h0M870.2 320.0h0M858.4 289.3h0M805.7 305.3h0M856.5 258.7h0M906.3 274.3h0M841.4 273.1h0M812.8 285.4h0M948.7 249.2h0M916.4 270.7h0M997.7 298.4h0M875.0 303.8h0M875.1 261.7h0M1012.8 291.1h0M842.5 271.9h0M966.7 292.4h0M880.7 278.9h0M960.8 280.7h0M967.6 252.9h0M890.1 258.1h0M811.2 282.6h0M923.0 310.8h0M939.4 301.0h0M965.1 280.3h0M875.5 280.5h0M903.0 300.1h0M952.1 290.9h0M890.2 285.2h0M878.5 298.7h0M936.0 299.3h0M854.9 279.0h0M903.7 273.5h0M873.3 278.1h0M847.6 293.6h0M951.2 278.8h0M898.4 272.6h0M899.4 298.0h0M873.7 293.2h0M930.3 284.5h0M936.7 295.7h0M910.9 297.4h0M864.2 295.9h0M907.7 289.3h0M909.2 277.5h0M893.8 302.1h0M873.5 277.0h0M912.5 307.9h0M888.5 278.4h0M885.7 295.7h0M877.0 296.2h0M910.5 275.5h0M939.5 291.5h0M910.8 278.8h0M890.0 272.2h0M892.0 272.1h0M1023.7 269.3h0M1022.5 281.4h0M1053.9 283.8h0M1029.6 262.1h0M1009.3 268.7h0"/><path d="M794.4 293.7h0M841.4 293.9h0M890.7 250.7h0M949.7 287.2h0M863.4 290.2h0M847.2 280.3h0M849.4 261.7h0M940.9 307.9h0M888.0 305.6h0M818.6 286.2h0M835.1 307.3h0M840.4 289.6h0M900.1 262.8h0M920.5 263.2h0M883.2 250.0h0M892.2 247.4h0M852.6 297.8h0M942.2 300.1h0M849.1 280.9h0M929.4 293.3h0M904.2 301.3h0M920.3 285.7h0M842.5 264.6h0M881.2 291.1h0M975.0 280.1h0M909.2 262.4h0M931.0 295.0h0M846.8 267.2h0M918.0 291.5h0M790.3 293.2h0M916.1 274.3h0M965.1 288.1h0M894.5 275.7h0M987.1 260.7h0M878.8 292.5h0M853.3 292.1h0M965.0 290.2h0M922.3 295.2h0M836.6 259.4h0M871.6 314.9h0M898.8 290.3h0M902.9 315.9h0M914.6 244.6h0M835.9 305.0h0M915.7 280.2h0M830.3 287.5h0M962.5 308.2h0M817.3 298.2h0M971.4 296.2h0M972.9 305.9h0M851.0 312.3h0M898.3 252.5h0M890.3 277.0h0M823.7 288.5h0M811.2 312.1h0M942.8 310.2h0M1020.4 277.6h0M920.8 274.1h0M818.0 282.8h0M928.5 278.0h0M805.3 286.9h0M937.4 301.1h0M981.3 269.0h0M915.2 311.0h0M813.0 262.4h0M923.9 271.0h0M790.5 289.3h0M870.4 275.5h0M894.2 284.7h0M967.3 275.7h0M829.6 274.2h0M786.7 307.0h0M902.4 287.6h0M844.4 307.1h0M924.2 260.4h0M937.0 316.0h0M815.5 266.8h0M882.7 273.5h0M849.9 323.8h0M839.3 316.1h0M840.6 294.4h0M839.9 305.6h0M874.6 301.4h0M867.8 276.0h0M848.1 307.2h0M857.7 288.2h0M960.5 312.7h0M892.5 275.8h0M993.1 284.4h0M787.1 303.5h0M910.7 271.9h0M895.7 311.4h0M960.3 276.9h0M935.1 303.7h0M914.9 293.5h0M892.8 299.7h0M887.6 265.2h0M858.0 275.1h0M882.0 309.4h0M886.1 289.7h0M913.4 313.2h0M889.9 299.9h0M900.1 284.4h0M912.3 309.4h0M907.0 301.5h0M907.5 296.3h0M936.3 281.9h0M869.8 265.5h0M860.9 279.1h0M890.2 291.7h0M876.0 302.5h0M889.9 313.2h0M899.2 290.1h0M945.7 276.4h0M918.5 288.0h0M889.6 296.7h0M845.9 272.7h0M849.1 278.5h0M865.8 305.3h0M930.8 275.4h0M869.2 270.1h0M851.5 286.7h0M946.1 288.6h0M1030.6 260.6h0M1074.6 253.2h0M1238.7 283.1h0M1034.0 277.5h0"/><path d="M899.1 272.9h0M831.0 279.6h0M917.3 245.0h0M909.3 257.3h0M941.2 295.7h0M1033.2 277.8h0M835.8 273.7h0M853.3 272.5h0M839.3 278.7h0M838.6 321.8h0M906.6 274.7h0M840.3 277.3h0M899.6 293.3h0M809.9 297.0h0M808.5 310.7h0M952.6 295.4h0M893.5 269.2h0M819.6 320.8h0M968.2 271.2h0M896.0 260.0h0M919.4 296.1h0M845.1 283.2h0M828.0 313.4h0M905.2 304.8h0M808.4 302.6h0M837.4 307.1h0M971.9 298.8h0M905.1 297.4h0M947.3 257.9h0M802.6 305.7h0M827.9 260.5h0M862.2 282.8h0M999.4 276.2h0M802.3 320.5h0M908.2 290.3h0M822.0 318.2h0M887.0 321.4h0M806.1 320.7h0M825.2 311.4h0M831.7 287.3h0M804.3 318.3h0M991.4 259.9h0M830.9 311.2h0M928.6 246.0h0M837.1 305.7h0M897.7 304.2h0M833.6 313.9h0M921.5 291.0h0M912.9 319.2h0M905.3 299.4h0M924.9 307.2h0M904.9 301.9h0M973.9 302.6h0M817.1 272.2h0M975.1 304.9h0M950.3 303.2h0M965.9 271.1h0M938.5 321.9h0M811.6 316.3h0M859.4 287.9h0M881.9 280.0h0M908.9 304.3h0M836.2 302.8h0M943.1 304.9h0M981.8 270.0h0M865.1 270.5h0M866.3 278.2h0M919.3 306.7h0M813.2 287.1h0M933.2 276.5h0M846.9 326.5h0M839.3 319.3h0M859.8 253.1h0M896.4 280.0h0M820.1 278.4h0M850.2 261.7h0M856.5 255.3h0M880.1 292.0h0M959.1 268.7h0M924.6 264.5h0M859.4 276.1h0M904.6 268.0h0M997.8 278.7h0M888.3 273.3h0M874.9 305.0h0M892.3 295.1h0M1023.0 272.0h0M872.9 311.2h0M883.9 325.5h0M813.1 302.6h0M920.4 287.2h0M856.1 317.5h0M902.3 310.1h0M909.0 293.1h0M923.5 282.7h0M904.8 303.2h0M953.2 298.3h0M890.0 288.6h0M901.8 303.1h0M838.8 301.4h0M943.1 308.3h0M937.2 290.2h0M927.7 270.6h0M835.9 292.7h0M893.0 295.7h0M899.7 294.8h0M909.5 265.0h0M871.2 297.7h0M896.4 290.2h0M902.7 289.1h0M830.0 288.3h0M884.5 298.4h0M913.4 302.3h0M957.7 269.5h0M916.1 292.3h0M858.1 282.1h0M861.2 311.6h0M910.0 276.2h0M930.0 261.3h0M866.6 290.8h0M894.6 285.5h0M912.9 260.6h0M880.8 300.4h0M1023.1 276.4h0M1080.1 252.5h0M1147.2 34.9h0M1031.4 299.7h0"/></g><rect x="763.0" y="15.5" width="549.0" height="429.3" fill="none" stroke="#000" stroke-width="1.8"/><path d="M804.7 444.8v4.5M956.0 444.8v4.5M1107.3 444.8v4.5M1258.6 444.8v4.5M763.0 428.0h-4.5M763.0 359.7h-4.5M763.0 291.4h-4.5M763.0 223.1h-4.5M763.0 154.8h-4.5M763.0 86.5h-4.5M763.0 18.2h-4.5" stroke="#000" stroke-width="1.4" fill="none"/><text class="t" x="777.50" y="472.35" font-size="25.30">−20</text><text class="t" x="947.95" y="472.35" font-size="25.30">0</text><text class="t" x="1091.12" y="472.35" font-size="25.30">20</text><text class="t" x="1242.72" y="472.35" font-size="25.30">40</text><text class="t" x="700.89" y="437.21" font-size="25.30">−40</text><text class="t" x="700.89" y="368.91" font-size="25.30">−20</text><text class="t" x="738.18" y="300.61" font-size="25.30">0</text><text class="t" x="722.09" y="232.31" font-size="25.30">20</text><text class="t" x="722.09" y="164.01" font-size="25.30">40</text><text class="t" x="722.09" y="95.71" font-size="25.30">60</text><text class="t" x="722.09" y="27.41" font-size="25.30">80</text><text class="t" x="895.72" y="501.55" font-size="25.334">First Latent Dimension</text><text class="t" transform="translate(692.45 389.56) rotate(-90)" font-size="25.102">Second Latent Dimension</text><rect x="1193.7" y="351.3" width="105.7" height="80.9" rx="3.5" ry="3.5" fill="#fff" fill-opacity="0.8" stroke="#cccccc" stroke-width="1.4"/><circle cx="1228.7" cy="374.0" r="2" fill="#1f77b4"/><circle cx="1228.7" cy="410.9" r="2" fill="#ff7f0e"/><text class="t" x="1273.33" y="380.35" font-size="25.30">0</text><text class="t" x="1273.33" y="417.20" font-size="25.30">1</text><text class="cb" x="783.45" y="571.00" font-size="33.00">(b)</text><text class="cs" x="834.25" y="571.00" font-size="35.929">Using t-SNE learned LFs</text></g>
<g><g stroke="#1f77b4" stroke-width="3.8" stroke-linecap="round" fill="none" stroke-opacity="0.9"><path d="M1640.6 102.2h0M1682.3 87.4h0M1674.2 90.6h0M1672.2 92.6h0M1675.3 93.3h0M1661.3 95.9h0M1637.7 101.3h0M1654.8 108.4h0M1661.4 105.2h0M1743.6 69.2h0M1743.2 66.9h0M1733.4 72.3h0M1749.1 64.1h0M1731.4 71.5h0M1731.9 72.5h0M1743.1 67.0h0M1736.9 74.0h0M1735.2 71.3h0M1739.0 71.8h0M1781.7 37.7h0M1790.8 39.4h0M1786.3 35.2h0M1784.7 34.6h0M1781.9 39.2h0M1784.7 37.2h0M1797.2 47.2h0M1793.0 45.9h0M1799.5 46.8h0M1798.1 33.7h0M1816.9 31.6h0M1800.1 32.3h0M1802.8 31.8h0M1815.7 42.9h0M1820.8 41.8h0M1814.1 38.2h0M1815.3 43.0h0M1810.9 38.6h0M1794.5 61.7h0M1796.8 62.7h0M1800.1 71.7h0M1802.8 62.0h0M1805.4 70.5h0M1805.0 66.1h0M1803.2 69.9h0M1817.4 62.8h0M1816.1 63.2h0M1826.1 60.8h0M1846.5 65.6h0M1838.6 63.8h0M1855.0 68.5h0M1849.5 72.0h0M1849.3 74.6h0M1856.1 67.0h0M1892.6 75.0h0M1886.6 72.9h0M1881.8 73.7h0M1872.2 72.0h0M1899.1 88.5h0M1917.4 120.5h0M1916.0 116.9h0M1932.1 130.8h0M1930.4 132.0h0M1930.5 133.0h0M1939.3 150.1h0"/><path d="M1682.4 88.7h0M1647.4 99.7h0M1676.5 90.3h0M1656.8 96.9h0M1661.8 93.5h0M1644.8 100.3h0M1672.2 91.1h0M1662.0 102.7h0M1662.4 101.7h0M1735.6 71.8h0M1737.6 70.3h0M1741.4 68.5h0M1743.9 66.2h0M1740.0 68.6h0M1754.9 66.1h0M1740.9 69.9h0M1740.0 72.6h0M1735.3 69.2h0M1737.1 70.8h0M1780.3 38.7h0M1786.7 36.6h0M1785.1 30.4h0M1787.6 37.3h0M1783.4 38.7h0M1785.2 39.7h0M1799.1 42.3h0M1796.8 47.6h0M1799.4 46.4h0M1801.5 32.8h0M1818.6 31.6h0M1806.3 33.4h0M1802.0 37.8h0M1812.2 43.7h0M1814.7 37.2h0M1813.7 45.7h0M1818.3 41.4h0M1815.7 43.9h0M1791.0 62.5h0M1791.2 62.8h0M1802.5 63.0h0M1803.4 64.4h0M1807.7 72.1h0M1803.1 63.5h0M1801.0 70.1h0M1816.5 62.5h0M1817.1 63.4h0M1830.2 63.5h0M1843.3 66.6h0M1839.7 65.1h0M1851.7 72.1h0M1850.2 65.1h0M1851.9 66.1h0M1858.5 68.5h0M1877.7 73.1h0M1888.3 74.4h0M1880.3 73.1h0M1887.9 76.4h0M1903.3 95.3h0M1915.5 118.2h0M1917.5 122.0h0M1919.7 125.0h0M1929.3 130.8h0M1935.6 134.5h0M1935.0 154.4h0"/><path d="M1639.6 100.9h0M1688.6 87.8h0M1653.8 98.5h0M1638.1 101.9h0M1671.1 93.2h0M1674.8 91.4h0M1652.1 109.6h0M1666.0 100.5h0M1660.4 102.4h0M1740.3 72.2h0M1754.2 64.1h0M1732.1 71.9h0M1729.7 72.6h0M1746.0 67.3h0M1737.9 68.0h0M1737.4 74.8h0M1735.2 69.2h0M1736.6 69.5h0M1777.4 38.8h0M1782.6 37.6h0M1778.8 38.1h0M1784.6 31.0h0M1784.5 40.3h0M1784.1 37.1h0M1796.7 42.2h0M1795.3 45.1h0M1792.2 45.4h0M1795.4 43.9h0M1805.8 28.9h0M1822.0 48.2h0M1804.9 37.6h0M1801.3 30.8h0M1818.4 41.0h0M1812.2 41.6h0M1818.3 42.5h0M1818.7 43.6h0M1811.2 40.4h0M1796.6 62.2h0M1792.1 61.2h0M1800.5 72.6h0M1802.4 67.2h0M1806.5 69.6h0M1805.0 64.1h0M1804.5 72.1h0M1814.3 63.8h0M1831.4 63.4h0M1822.7 59.9h0M1837.4 63.8h0M1838.7 64.6h0M1859.9 67.4h0M1850.1 69.7h0M1851.8 63.7h0M1856.7 66.5h0M1895.2 75.0h0M1877.2 73.1h0M1890.5 74.7h0M1874.4 73.6h0M1909.3 79.1h0M1916.2 122.5h0M1918.4 124.0h0M1929.2 131.8h0M1927.9 131.2h0M1934.3 131.6h0M1948.7 145.3h0"/><path d="M1666.0 93.7h0M1637.6 102.3h0M1688.3 87.5h0M1684.2 88.0h0M1638.8 102.9h0M1676.6 89.9h0M1669.4 98.2h0M1669.2 97.1h0M1652.1 106.1h0M1740.6 69.6h0M1742.6 71.0h0M1741.6 67.5h0M1730.2 70.7h0M1750.5 64.1h0M1734.4 70.1h0M1738.1 72.3h0M1736.7 71.8h0M1739.0 73.1h0M1780.8 37.4h0M1790.9 35.9h0M1787.5 37.2h0M1786.0 37.1h0M1784.8 40.0h0M1785.2 37.6h0M1801.3 43.3h0M1793.2 47.6h0M1795.1 43.4h0M1800.1 44.2h0M1803.2 37.1h0M1807.0 32.8h0M1801.4 34.9h0M1804.5 36.5h0M1814.4 46.5h0M1813.7 40.9h0M1819.3 42.9h0M1816.9 38.5h0M1791.2 61.9h0M1796.1 62.1h0M1800.4 71.4h0M1801.8 66.5h0M1806.4 69.0h0M1805.8 68.9h0M1803.8 71.3h0M1805.7 70.3h0M1817.8 63.6h0M1828.8 62.2h0M1829.4 63.4h0M1842.8 64.5h0M1841.1 65.6h0M1858.9 68.4h0M1848.0 67.1h0M1853.1 63.4h0M1854.5 63.7h0M1889.5 74.1h0M1873.1 73.3h0M1880.7 74.2h0M1897.3 79.1h0M1915.6 118.9h0M1919.0 126.5h0M1926.8 129.1h0M1920.0 126.9h0M1930.4 130.7h0M1936.7 132.1h0"/><path d="M1657.7 96.8h0M1655.5 97.8h0M1662.0 94.1h0M1681.1 88.4h0M1669.5 93.0h0M1683.1 89.9h0M1659.4 103.6h0M1656.6 106.6h0M1656.7 104.7h0M1737.9 72.1h0M1743.4 71.1h0M1748.7 66.0h0M1736.3 68.9h0M1749.5 66.6h0M1738.5 72.2h0M1734.1 71.7h0M1735.9 73.4h0M1735.6 69.8h0M1783.8 37.5h0M1786.4 38.1h0M1781.5 38.7h0M1785.2 35.5h0M1782.1 39.7h0M1785.9 40.5h0M1796.1 49.3h0M1800.7 44.8h0M1791.8 44.2h0M1798.3 44.3h0M1806.6 36.3h0M1801.7 35.2h0M1802.6 33.2h0M1801.6 36.3h0M1811.3 43.7h0M1816.0 38.6h0M1817.2 43.3h0M1814.3 45.8h0M1795.4 62.8h0M1793.3 62.2h0M1804.0 64.9h0M1801.2 68.9h0M1804.7 64.8h0M1804.9 64.3h0M1800.7 70.2h0M1803.1 72.3h0M1813.5 63.6h0M1825.7 61.3h0M1829.0 63.4h0M1836.9 64.7h0M1836.1 64.3h0M1853.1 68.1h0M1851.3 70.1h0M1860.0 69.7h0M1859.7 65.9h0M1894.1 75.9h0M1890.6 75.5h0M1878.8 73.3h0M1900.8 81.6h0M1918.4 123.8h0M1917.2 117.9h0M1929.8 131.2h0M1932.0 130.2h0M1923.0 129.8h0M1935.9 141.6h0"/><path d="M1644.6 100.7h0M1686.5 89.8h0M1673.8 91.9h0M1663.4 95.7h0M1655.3 97.2h0M1638.7 101.8h0M1666.4 100.2h0M1654.9 107.3h0M1640.5 116.7h0M1741.1 68.7h0M1748.2 64.8h0M1731.9 73.7h0M1748.2 65.5h0M1753.7 63.6h0M1750.5 66.1h0M1736.8 74.7h0M1739.3 72.6h0M1735.5 72.0h0M1778.5 37.6h0M1779.2 37.7h0M1786.4 30.5h0M1785.2 35.0h0M1786.0 39.5h0M1784.4 39.9h0M1798.7 45.0h0M1796.2 47.9h0M1794.7 46.6h0M1803.2 45.0h0M1810.0 34.6h0M1799.0 36.6h0M1805.3 36.7h0M1804.1 37.4h0M1819.9 40.0h0M1812.3 45.9h0M1816.1 37.5h0M1815.8 40.2h0M1789.6 63.3h0M1794.6 61.5h0M1803.1 65.0h0M1800.8 74.5h0M1805.1 66.1h0M1804.5 63.1h0M1804.2 71.1h0M1804.7 69.1h0M1812.8 63.2h0M1827.3 61.7h0M1837.2 64.7h0M1840.4 65.3h0M1852.7 69.5h0M1850.8 70.4h0M1849.5 72.5h0M1853.4 72.3h0M1861.4 73.4h0M1882.4 74.0h0M1876.8 72.4h0M1874.8 72.3h0M1902.5 84.2h0M1918.2 120.0h0M1917.1 120.4h0M1923.6 128.4h0M1924.4 129.3h0M1921.3 127.1h0M1937.6 139.8h0"/></g><g stroke="#ff7f0e" stroke-width="3.8" stroke-linecap="round" fill="none" stroke-opacity="0.9"><path d="M1466.7 324.6h0M1594.1 164.6h0M1530.9 201.2h0M1467.0 288.2h0M1566.7 182.0h0M1534.0 241.3h0M1563.5 144.7h0M1518.3 219.1h0M1573.3 211.7h0M1601.0 137.1h0M1542.6 257.0h0M1521.6 177.3h0M1613.5 167.5h0M1583.8 171.0h0M1555.2 172.9h0M1587.1 200.2h0M1561.5 204.1h0M1493.4 300.3h0M1482.8 278.8h0M1501.9 230.2h0M1500.8 270.5h0M1589.2 215.9h0M1555.7 278.2h0M1552.8 167.7h0M1537.1 261.9h0M1486.7 244.4h0M1451.4 309.8h0M1514.3 270.1h0M1584.3 149.1h0M1524.9 238.7h0M1569.5 172.4h0M1576.5 144.9h0M1618.0 105.2h0M1550.3 177.0h0M1485.9 254.5h0M1581.0 178.5h0M1600.8 155.1h0M1542.2 236.6h0M1528.6 189.3h0M1472.4 270.9h0M1602.0 161.5h0M1547.8 276.0h0M1527.4 277.4h0M1472.9 311.5h0M1534.8 269.3h0M1508.4 246.5h0M1545.1 219.3h0M1581.7 180.3h0M1576.0 246.3h0M1605.1 96.7h0M1604.4 133.0h0M1539.0 205.3h0M1587.5 185.9h0M1496.4 247.1h0M1607.6 111.7h0M1562.5 198.4h0M1557.8 142.1h0M1636.2 133.0h0M1569.6 150.3h0M1606.4 175.9h0M1599.4 149.4h0M1533.0 288.7h0M1596.2 164.7h0M1612.9 139.0h0M1496.5 253.5h0M1609.2 153.3h0M1510.0 264.9h0M1512.0 263.0h0M1506.2 249.0h0M1523.2 181.9h0M1529.6 209.8h0M1571.0 126.4h0M1561.8 165.6h0M1518.3 216.0h0M1607.3 158.4h0M1616.5 114.3h0M1606.6 191.5h0M1526.1 296.0h0M1490.2 274.0h0M1524.4 239.9h0M1583.2 135.7h0M1525.3 254.8h0M1510.6 195.6h0M1549.1 225.7h0M1569.1 189.5h0M1609.0 98.0h0M1519.7 269.0h0M1468.6 304.4h0M1600.4 149.8h0M1574.3 161.2h0M1549.2 191.8h0M1499.2 246.9h0M1534.4 202.2h0M1566.5 189.3h0M1559.8 170.6h0M1507.7 229.3h0M1509.0 212.1h0M1539.6 310.4h0M1463.4 287.8h0M1583.5 154.2h0M1538.8 251.4h0M1479.5 330.1h0M1581.7 173.0h0M1557.6 178.5h0M1559.3 167.4h0M1520.0 221.8h0M1515.8 205.1h0M1565.4 176.7h0M1556.7 214.3h0M1541.1 182.2h0M1552.1 210.1h0M1562.9 227.2h0M1543.0 181.2h0M1536.0 240.9h0M1539.2 160.9h0M1520.1 207.2h0M1531.0 165.1h0M1563.7 196.5h0M1558.1 176.7h0M1728.6 83.8h0M1455.6 138.0h0M1433.1 345.6h0M1516.2 348.2h0M1677.7 164.6h0M1652.6 151.1h0M1624.6 95.0h0M1615.3 108.1h0M1637.1 102.2h0M1665.4 115.4h0"/><path d="M1475.6 287.1h0M1534.1 259.7h0M1533.4 163.6h0M1535.5 270.0h0M1479.7 235.5h0M1514.4 220.0h0M1610.5 131.3h0M1554.0 157.9h0M1560.3 205.2h0M1531.1 308.0h0M1521.3 197.3h0M1547.2 227.9h0M1530.6 177.8h0M1535.3 288.3h0M1513.3 238.3h0M1484.2 262.6h0M1605.4 185.1h0M1531.5 288.4h0M1502.0 306.1h0M1563.4 233.9h0M1526.2 184.4h0M1509.8 227.6h0M1570.1 209.3h0M1493.5 241.3h0M1605.9 185.6h0M1596.8 141.8h0M1539.9 269.9h0M1572.3 249.3h0M1534.0 206.0h0M1493.7 334.9h0M1559.6 205.2h0M1508.8 255.5h0M1594.0 116.9h0M1559.4 276.0h0M1539.8 156.8h0M1526.1 215.3h0M1534.5 269.3h0M1586.0 222.0h0M1570.6 194.9h0M1587.6 214.8h0M1531.6 283.5h0M1518.9 239.4h0M1566.0 160.2h0M1603.7 149.3h0M1543.4 208.2h0M1555.8 173.4h0M1472.6 263.6h0M1562.1 200.7h0M1545.0 186.0h0M1521.5 307.8h0M1500.8 291.3h0M1530.9 215.9h0M1609.0 122.2h0M1495.5 336.9h0M1529.9 199.2h0M1553.0 194.8h0M1573.2 153.6h0M1503.4 283.7h0M1559.9 217.6h0M1603.0 179.1h0M1460.8 319.8h0M1605.7 180.9h0M1517.8 276.2h0M1522.5 230.4h0M1590.0 218.1h0M1518.9 246.6h0M1525.0 311.9h0M1533.3 250.0h0M1586.5 179.3h0M1593.8 174.7h0M1468.8 265.8h0M1604.1 125.6h0M1504.1 257.7h0M1543.2 187.4h0M1534.2 255.1h0M1581.4 200.5h0M1531.0 203.2h0M1580.9 194.9h0M1550.4 299.0h0M1508.0 229.3h0M1641.8 107.1h0M1528.9 235.3h0M1596.1 158.2h0M1543.8 266.1h0M1631.8 107.5h0M1536.7 243.0h0M1581.4 190.4h0M1497.5 271.2h0M1503.7 277.9h0M1607.9 97.8h0M1525.9 200.6h0M1603.3 156.5h0M1595.4 119.3h0M1527.5 317.6h0M1515.6 265.2h0M1527.4 285.1h0M1594.5 131.2h0M1514.6 329.9h0M1538.4 305.2h0M1481.3 260.5h0M1547.7 228.0h0M1538.7 182.7h0M1517.8 209.2h0M1541.8 226.2h0M1527.1 174.1h0M1559.4 201.2h0M1542.1 224.3h0M1521.7 187.7h0M1550.3 193.1h0M1518.2 227.4h0M1533.4 215.3h0M1574.3 180.5h0M1578.1 182.4h0M1560.2 202.9h0M1545.9 193.0h0M1543.9 183.2h0M1515.2 188.2h0M1527.8 223.2h0M1574.5 197.9h0M1697.5 110.0h0M1696.8 185.5h0M1433.9 319.4h0M1571.5 295.1h0M1681.8 159.7h0M1665.7 115.6h0M1638.8 147.4h0M1671.0 28.9h0M1679.1 90.5h0M1838.8 122.4h0"/><path d="M1575.6 175.2h0M1528.7 265.7h0M1515.4 242.0h0M1529.3 287.9h0M1578.0 205.3h0M1480.0 316.6h0M1515.0 250.9h0M1508.5 265.8h0M1521.8 277.2h0M1546.7 164.3h0M1538.1 251.6h0M1535.8 238.6h0M1463.1 296.4h0M1553.0 179.9h0M1546.5 233.4h0M1582.6 219.7h0M1560.5 140.7h0M1455.7 303.4h0M1538.5 248.5h0M1514.2 219.4h0M1529.5 166.8h0M1538.5 180.0h0M1503.6 313.4h0M1521.1 224.2h0M1596.0 134.5h0M1564.9 159.3h0M1544.6 180.1h0M1529.5 224.8h0M1553.0 222.0h0M1548.1 172.4h0M1570.7 207.9h0M1581.5 162.0h0M1549.2 301.5h0M1627.1 164.6h0M1537.4 178.7h0M1610.9 125.1h0M1508.6 211.7h0M1495.2 227.2h0M1565.4 247.1h0M1579.1 144.3h0M1576.4 151.8h0M1580.0 179.0h0M1500.0 254.1h0M1573.2 189.6h0M1530.3 163.8h0M1525.6 173.9h0M1550.1 246.9h0M1539.9 273.0h0M1552.0 180.5h0M1565.2 249.8h0M1513.8 189.2h0M1525.9 239.7h0M1541.5 278.5h0M1543.4 164.6h0M1550.5 163.7h0M1485.8 325.6h0M1588.3 175.1h0M1532.7 262.0h0M1545.9 172.7h0M1602.6 187.7h0M1552.9 184.1h0M1566.2 234.3h0M1549.1 194.1h0M1570.6 172.1h0M1538.2 171.8h0M1529.0 279.5h0M1583.9 158.7h0M1473.0 296.8h0M1535.9 258.2h0M1491.6 268.0h0M1526.1 269.0h0M1617.8 152.0h0M1615.7 159.2h0M1577.5 228.1h0M1565.4 160.4h0M1535.2 216.9h0M1534.6 194.2h0M1579.8 171.8h0M1514.3 240.5h0M1530.8 273.8h0M1605.8 122.6h0M1511.5 294.0h0M1542.6 180.6h0M1571.5 219.1h0M1579.5 197.7h0M1556.7 166.9h0M1552.8 240.0h0M1635.2 102.9h0M1506.7 228.4h0M1536.2 222.5h0M1576.4 200.0h0M1601.5 103.4h0M1579.4 131.9h0M1544.9 205.7h0M1493.7 269.2h0M1500.5 304.4h0M1493.1 295.4h0M1535.6 275.3h0M1544.0 207.5h0M1540.5 220.7h0M1544.8 280.3h0M1536.5 192.9h0M1552.3 203.6h0M1537.1 198.3h0M1537.3 236.1h0M1538.6 221.2h0M1531.4 214.4h0M1541.9 193.9h0M1568.2 192.4h0M1549.1 225.6h0M1563.0 180.1h0M1554.9 185.2h0M1529.9 189.2h0M1520.2 237.2h0M1575.0 187.2h0M1533.6 227.2h0M1516.0 216.8h0M1559.7 187.0h0M1670.6 28.4h0M1717.0 108.9h0M1687.4 218.4h0M1440.6 317.9h0M1581.6 263.3h0M1648.9 182.9h0M1659.4 125.7h0M1609.6 91.3h0M1667.9 79.9h0M1685.9 88.1h0M1846.8 117.2h0"/><path d="M1512.8 328.1h0M1535.2 168.6h0M1531.6 301.9h0M1550.7 260.8h0M1525.0 182.5h0M1481.5 290.5h0M1562.4 238.9h0M1543.0 194.4h0M1578.0 220.9h0M1492.4 226.7h0M1532.8 213.6h0M1589.2 203.7h0M1523.1 290.1h0M1530.8 286.7h0M1552.5 193.4h0M1548.1 271.5h0M1487.4 333.9h0M1548.8 262.2h0M1490.8 225.0h0M1480.1 291.6h0M1630.1 116.1h0M1521.7 247.4h0M1485.7 287.2h0M1510.3 254.5h0M1521.2 310.7h0M1572.0 128.8h0M1482.0 231.5h0M1593.9 162.3h0M1528.0 204.4h0M1603.3 144.6h0M1526.5 223.2h0M1602.9 188.1h0M1584.0 218.9h0M1615.4 178.9h0M1582.9 203.4h0M1561.5 257.7h0M1580.0 227.4h0M1613.9 170.6h0M1618.3 122.6h0M1541.4 196.4h0M1608.7 168.6h0M1539.1 240.0h0M1563.0 198.8h0M1558.7 214.0h0M1565.5 190.1h0M1466.0 285.1h0M1509.1 266.2h0M1531.1 204.6h0M1519.2 251.1h0M1597.6 177.2h0M1518.4 231.9h0M1604.0 186.7h0M1463.7 323.1h0M1634.8 113.6h0M1517.0 244.6h0M1542.2 306.0h0M1524.8 228.9h0M1561.0 213.6h0M1550.3 193.7h0M1553.0 172.8h0M1565.7 160.8h0M1521.5 293.4h0M1560.0 168.7h0M1573.3 204.8h0M1534.1 260.1h0M1600.2 136.9h0M1528.1 183.3h0M1612.8 117.4h0M1548.8 221.5h0M1543.2 201.9h0M1629.8 104.4h0M1521.6 183.6h0M1602.4 130.9h0M1533.1 242.3h0M1586.2 167.9h0M1552.0 279.9h0M1502.0 241.0h0M1535.1 159.1h0M1569.2 259.0h0M1503.9 316.9h0M1558.1 217.6h0M1471.7 319.6h0M1564.0 127.6h0M1593.0 128.2h0M1559.1 181.7h0M1506.1 258.9h0M1490.7 241.7h0M1529.1 303.1h0M1572.3 214.4h0M1523.6 262.7h0M1475.2 302.6h0M1593.8 162.0h0M1528.2 218.3h0M1548.3 188.0h0M1539.8 213.5h0M1522.4 243.1h0M1562.3 168.5h0M1551.4 198.5h0M1514.7 247.4h0M1534.8 269.5h0M1592.8 154.2h0M1506.8 279.4h0M1573.5 202.7h0M1528.9 222.8h0M1547.3 204.3h0M1552.5 199.8h0M1583.1 173.7h0M1563.3 173.2h0M1515.0 206.0h0M1549.6 179.8h0M1561.6 177.9h0M1533.6 191.5h0M1560.3 165.0h0M1568.2 180.4h0M1541.5 182.4h0M1531.7 223.7h0M1529.1 197.4h0M1537.9 205.3h0M1612.6 60.6h0M1837.8 121.9h0M1415.2 424.9h0M1463.0 336.6h0M1591.7 266.3h0M1644.0 186.6h0M1550.9 98.8h0M1562.9 110.0h0M1625.1 94.8h0M1728.7 83.7h0M1903.9 110.7h0"/><path d="M1494.0 279.1h0M1536.1 219.6h0M1517.4 300.1h0M1492.4 278.0h0M1506.2 291.2h0M1528.7 230.4h0M1552.3 195.8h0M1551.5 220.6h0M1537.0 220.8h0M1502.4 250.7h0M1557.4 274.9h0M1525.5 281.7h0M1572.5 221.2h0M1560.6 162.6h0M1596.6 169.0h0M1558.6 215.8h0M1508.2 253.6h0M1601.1 164.3h0M1562.4 273.6h0M1500.2 264.1h0M1554.4 185.4h0M1471.3 280.1h0M1531.2 225.2h0M1491.4 239.3h0M1560.8 247.2h0M1553.4 145.4h0M1604.3 136.5h0M1501.6 289.7h0M1555.5 231.4h0M1471.1 298.9h0M1533.6 221.2h0M1591.0 156.0h0M1495.9 310.8h0M1537.5 289.2h0M1543.0 164.1h0M1560.0 208.3h0M1456.2 319.5h0M1619.7 103.4h0M1574.6 228.7h0M1553.1 185.7h0M1563.7 226.8h0M1503.9 239.1h0M1520.5 256.8h0M1559.3 191.5h0M1541.1 168.3h0M1518.2 318.9h0M1512.7 275.0h0M1499.9 254.2h0M1620.2 120.6h0M1572.7 244.6h0M1516.1 264.5h0M1503.4 270.8h0M1563.4 211.5h0M1474.8 294.5h0M1476.8 310.4h0M1520.0 245.3h0M1505.5 290.9h0M1476.2 308.5h0M1566.1 258.8h0M1526.5 272.0h0M1593.4 182.8h0M1623.9 163.5h0M1556.1 276.8h0M1575.5 146.9h0M1513.9 268.0h0M1601.2 164.6h0M1478.8 318.9h0M1511.4 210.8h0M1612.1 149.7h0M1627.2 156.7h0M1562.9 214.7h0M1525.1 203.1h0M1593.4 135.4h0M1471.7 324.5h0M1497.0 299.0h0M1491.8 230.1h0M1634.9 136.2h0M1559.6 232.8h0M1548.5 173.6h0M1542.7 191.5h0M1528.5 323.4h0M1544.1 243.9h0M1613.0 129.0h0M1559.0 219.1h0M1554.3 273.3h0M1482.6 304.1h0M1622.3 128.9h0M1543.3 227.3h0M1576.0 172.0h0M1514.2 202.5h0M1517.6 314.6h0M1539.4 230.6h0M1564.6 208.6h0M1532.7 282.9h0M1561.3 206.7h0M1555.9 209.7h0M1606.4 180.1h0M1548.5 196.3h0M1628.2 154.6h0M1530.5 268.0h0M1546.7 272.0h0M1567.5 144.5h0M1563.6 241.5h0M1551.1 207.2h0M1512.7 188.2h0M1532.1 223.4h0M1554.4 193.7h0M1534.1 242.3h0M1553.5 208.1h0M1528.3 165.4h0M1524.3 189.2h0M1530.3 204.7h0M1558.3 156.9h0M1553.5 214.7h0M1532.1 200.5h0M1549.5 167.4h0M1514.1 227.2h0M1559.8 193.1h0M1576.0 64.0h0M1847.1 117.5h0M1424.5 354.9h0M1467.5 347.4h0M1595.8 248.7h0M1632.1 181.8h0M1583.5 85.7h0M1577.9 100.6h0M1632.0 99.6h0M1697.9 109.9h0"/><path d="M1513.2 288.1h0M1479.9 296.7h0M1547.9 203.9h0M1494.8 221.3h0M1598.7 187.1h0M1536.2 224.8h0M1602.1 121.6h0M1605.7 157.4h0M1603.6 120.5h0M1516.4 185.9h0M1579.1 203.3h0M1499.9 246.7h0M1544.4 173.7h0M1570.2 154.6h0M1535.1 269.6h0M1542.1 228.9h0M1570.8 173.3h0M1603.2 121.0h0M1570.8 199.4h0M1565.3 262.5h0M1522.3 222.0h0M1545.8 286.2h0M1485.9 259.2h0M1577.1 166.6h0M1579.1 170.3h0M1500.3 283.7h0M1554.4 228.9h0M1563.4 196.5h0M1583.5 147.5h0M1515.0 248.1h0M1624.4 111.9h0M1498.5 303.6h0M1534.9 190.3h0M1546.5 177.3h0M1519.4 229.9h0M1514.7 317.1h0M1502.1 274.7h0M1567.3 162.0h0M1516.0 285.0h0M1475.5 265.3h0M1566.2 190.1h0M1578.1 221.8h0M1581.4 217.8h0M1581.5 229.3h0M1532.7 234.1h0M1538.2 202.8h0M1530.9 306.5h0M1545.0 166.9h0M1609.1 159.4h0M1557.5 228.0h0M1496.5 256.2h0M1601.6 169.5h0M1543.4 183.4h0M1613.3 126.1h0M1591.2 128.9h0M1560.6 244.1h0M1479.5 283.8h0M1498.1 294.1h0M1544.7 277.7h0M1566.7 169.2h0M1549.3 272.1h0M1525.9 224.1h0M1520.7 304.5h0M1543.3 240.7h0M1453.9 308.0h0M1526.1 295.8h0M1571.3 251.5h0M1536.7 213.3h0M1576.4 169.3h0M1481.6 261.3h0M1555.1 197.3h0M1584.2 120.3h0M1583.7 160.7h0M1529.2 272.4h0M1507.8 195.2h0M1540.9 222.0h0M1577.4 225.2h0M1554.2 157.1h0M1467.9 263.5h0M1526.4 216.2h0M1500.8 312.2h0M1604.0 169.3h0M1570.2 159.5h0M1504.6 222.1h0M1479.8 236.3h0M1592.6 164.5h0M1561.8 228.6h0M1534.6 288.8h0M1543.4 199.9h0M1463.6 319.7h0M1478.1 332.8h0M1600.6 119.9h0M1561.3 142.5h0M1534.7 211.7h0M1469.0 288.2h0M1499.6 266.7h0M1562.9 230.8h0M1524.5 301.5h0M1556.5 207.8h0M1524.0 223.5h0M1549.4 211.7h0M1461.3 272.4h0M1547.8 148.7h0M1519.2 194.0h0M1531.1 201.3h0M1518.8 191.0h0M1554.9 184.0h0M1540.5 180.7h0M1531.5 199.4h0M1559.2 183.6h0M1578.9 195.4h0M1566.1 219.9h0M1539.8 209.6h0M1545.1 161.0h0M1546.7 196.3h0M1529.1 211.2h0M1521.2 214.4h0M1550.6 203.8h0M1667.6 79.3h0M1904.0 110.7h0M1458.2 369.1h0M1476.9 344.5h0M1668.7 164.2h0M1655.6 158.6h0M1604.0 88.3h0M1598.4 98.8h0M1656.0 99.6h0M1716.7 109.0h0"/></g><rect x="1389.0" y="9.2" width="586.0" height="435.6" fill="none" stroke="#000" stroke-width="1.8"/><path d="M1505.4 444.8v4.5M1623.1 444.8v4.5M1740.8 444.8v4.5M1858.5 444.8v4.5M1389.0 418.8h-4.5M1389.0 335.2h-4.5M1389.0 251.6h-4.5M1389.0 168.0h-4.5M1389.0 84.4h-4.5" stroke="#000" stroke-width="1.4" fill="none"/><text class="t" x="1497.35" y="472.35" font-size="25.30">0</text><text class="t" x="1614.83" y="472.70" font-size="25.30">1</text><text class="t" x="1733.10" y="472.70" font-size="25.30">2</text><text class="t" x="1850.51" y="472.35" font-size="25.30">3</text><text class="t" x="1364.18" y="428.01" font-size="25.30">0</text><text class="t" x="1364.84" y="344.42" font-size="25.30">1</text><text class="t" x="1365.04" y="260.99" font-size="25.30">2</text><text class="t" x="1364.53" y="177.21" font-size="25.30">3</text><text class="t" x="1363.93" y="93.62" font-size="25.30">4</text><text class="t" x="1540.82" y="501.35" font-size="25.262">First Latent Dimension</text><text class="t" transform="translate(1355.15 387.66) rotate(-90)" font-size="25.110">Second Latent Dimension</text><rect x="1857.1" y="351.3" width="105.7" height="80.9" rx="3.5" ry="3.5" fill="#fff" fill-opacity="0.8" stroke="#cccccc" stroke-width="1.4"/><circle cx="1892.1" cy="374.0" r="2" fill="#1f77b4"/><circle cx="1892.1" cy="410.9" r="2" fill="#ff7f0e"/><text class="t" x="1936.73" y="380.35" font-size="25.30">0</text><text class="t" x="1936.73" y="417.20" font-size="25.30">1</text><text class="cb" x="1457.45" y="571.00" font-size="33.00">(c)</text><text class="cs" x="1506.24" y="571.00" font-size="36.063">Using VAE learned LFs</text></g>
<g><g stroke="#1f77b4" stroke-width="3.8" stroke-linecap="round" fill="none" stroke-opacity="0.9"><path d="M145.5 615.8h0M150.4 625.0h0M152.6 622.5h0M135.9 625.3h0M129.5 629.8h0M137.7 624.5h0M139.9 619.7h0M139.8 624.4h0M139.9 619.7h0M139.5 625.0h0M138.9 624.3h0M136.8 623.9h0M139.7 625.2h0M150.4 623.9h0M135.0 626.1h0M143.1 624.7h0M132.3 625.8h0M150.9 624.7h0M142.9 622.9h0"/><path d="M134.7 623.2h0M151.2 624.3h0M143.5 619.5h0M141.9 618.2h0M130.8 627.2h0M135.2 625.8h0M141.5 618.7h0M134.3 626.5h0M145.4 619.5h0M133.0 629.8h0M135.6 626.4h0M140.1 624.4h0M134.0 626.2h0M141.2 619.4h0M139.5 623.8h0M137.7 625.9h0M143.5 618.8h0M140.1 621.2h0M140.2 626.7h0"/><path d="M145.7 623.8h0M138.6 618.7h0M139.3 618.8h0M136.7 625.3h0M141.3 623.9h0M153.1 624.2h0M135.9 627.5h0M135.2 621.5h0M148.1 623.9h0M134.8 628.0h0M148.1 625.8h0M145.9 622.6h0M141.7 619.2h0M135.4 625.3h0M139.7 618.6h0M139.4 618.0h0M133.3 624.8h0M142.0 620.7h0"/><path d="M134.7 624.5h0M145.7 624.8h0M131.9 625.1h0M144.7 617.8h0M135.9 628.9h0M139.9 622.6h0M140.7 622.0h0M137.2 627.0h0M131.0 629.1h0M140.9 620.1h0M137.0 621.7h0M140.4 618.7h0M135.4 628.5h0M148.7 623.5h0M144.1 626.2h0M141.1 617.4h0M137.1 625.9h0M131.7 630.3h0"/><path d="M150.8 624.7h0M133.4 626.7h0M149.4 621.9h0M148.6 623.8h0M139.9 618.7h0M147.8 625.8h0M144.3 625.9h0M136.0 624.8h0M152.3 623.9h0M154.3 623.7h0M139.4 620.0h0M145.3 620.6h0M152.0 624.9h0M145.2 619.7h0M138.1 627.1h0M145.0 615.8h0M146.8 625.1h0M147.2 622.2h0"/><path d="M138.8 624.0h0M143.4 626.0h0M146.6 623.7h0M149.1 623.6h0M140.3 623.4h0M139.4 620.7h0M144.3 625.0h0M145.3 619.5h0M150.5 624.4h0M144.6 623.3h0M152.3 624.9h0M135.3 622.8h0M147.5 623.2h0M142.9 617.6h0M139.8 627.0h0M139.2 624.1h0M131.7 627.4h0M136.0 627.9h0"/></g><g stroke="#ff7f0e" stroke-width="3.8" stroke-linecap="round" fill="none" stroke-opacity="0.9"><path d="M245.5 727.2h0M279.8 755.1h0M345.1 800.7h0M423.0 862.6h0M136.7 622.1h0M138.4 689.1h0M134.5 641.1h0M159.7 658.8h0M123.5 661.9h0M125.1 660.8h0M131.7 656.3h0M135.5 686.3h0M148.7 648.2h0M138.4 677.3h0M129.7 662.6h0M144.8 648.4h0M131.1 641.8h0M133.2 637.4h0M139.8 661.5h0M161.8 654.2h0M126.9 671.9h0M139.9 643.1h0M135.2 644.9h0M153.2 650.7h0M137.7 684.1h0M159.4 648.4h0M136.8 650.8h0M145.7 644.4h0M138.1 670.3h0M125.0 654.7h0M161.0 651.5h0M140.0 635.2h0M143.6 640.5h0M158.3 655.3h0M163.0 657.9h0M129.7 671.9h0M145.1 641.2h0M127.2 653.0h0M147.7 641.4h0M139.8 669.0h0M139.0 636.6h0M158.5 654.9h0M136.6 685.0h0M129.5 646.6h0M132.5 678.0h0M144.6 646.2h0M140.9 664.8h0M134.9 648.3h0M152.8 647.3h0M132.5 670.3h0M131.3 667.4h0M155.7 653.6h0M141.8 642.9h0M155.4 645.5h0M139.3 650.0h0M130.9 679.0h0M123.7 668.3h0M140.2 668.4h0M142.7 686.5h0M156.1 653.5h0M137.7 657.8h0M126.8 649.4h0M136.3 677.4h0M139.3 690.1h0M137.5 652.4h0M154.6 646.5h0M131.5 677.3h0M157.0 651.9h0M133.9 684.7h0M136.2 650.4h0M135.3 685.8h0M130.7 658.5h0M126.5 657.7h0M156.5 652.1h0M137.1 665.8h0M155.3 647.9h0M157.0 648.9h0M155.9 653.6h0M128.7 643.4h0M139.8 673.3h0M131.0 647.0h0M144.8 691.2h0M127.4 648.2h0M127.8 652.5h0M134.4 637.7h0M130.9 657.2h0M142.3 652.1h0M133.4 650.4h0M150.8 641.0h0M136.0 667.3h0M135.8 664.5h0M134.4 662.3h0M163.5 676.6h0M177.9 669.4h0M194.4 683.8h0M213.4 699.8h0M161.4 685.9h0M139.8 690.5h0"/><path d="M254.8 735.8h0M285.4 760.4h0M354.8 806.3h0M472.2 904.3h0M130.6 627.8h0M154.4 650.9h0M131.9 641.0h0M158.4 647.7h0M149.6 651.9h0M137.6 649.3h0M157.0 646.3h0M135.6 683.4h0M159.3 657.9h0M140.2 653.5h0M134.6 649.6h0M135.5 669.2h0M160.1 649.7h0M136.7 659.3h0M139.2 658.6h0M129.8 641.7h0M126.3 650.8h0M138.0 641.2h0M154.5 653.0h0M142.9 650.7h0M140.9 653.1h0M129.9 645.9h0M125.9 665.5h0M134.3 661.1h0M129.6 655.6h0M140.0 643.7h0M157.1 650.7h0M129.5 651.6h0M124.1 666.0h0M138.1 636.2h0M145.4 691.9h0M139.6 657.7h0M160.8 653.7h0M138.6 689.0h0M136.8 667.2h0M137.5 663.0h0M145.3 689.3h0M132.2 665.6h0M139.7 676.1h0M137.8 675.3h0M137.4 655.5h0M147.2 692.5h0M144.1 645.6h0M136.7 679.2h0M134.3 681.2h0M127.4 665.7h0M134.3 655.3h0M137.6 652.5h0M140.0 681.2h0M135.3 676.1h0M163.8 656.9h0M145.0 691.4h0M123.9 666.9h0M131.0 665.1h0M138.4 682.1h0M137.0 656.2h0M136.3 658.0h0M134.3 673.0h0M134.1 657.2h0M141.1 681.1h0M153.3 643.8h0M137.8 662.4h0M129.5 657.7h0M135.5 667.5h0M130.7 642.2h0M135.3 659.6h0M138.3 670.0h0M136.9 677.7h0M137.2 689.2h0M128.4 665.0h0M127.2 660.9h0M135.4 638.4h0M123.7 659.4h0M135.4 638.2h0M160.4 654.2h0M134.8 684.9h0M131.7 651.1h0M131.3 653.6h0M133.1 666.7h0M129.4 643.4h0M134.7 640.3h0M127.9 646.4h0M130.9 651.9h0M138.6 667.7h0M140.5 658.6h0M138.6 659.4h0M166.5 661.5h0M135.5 685.5h0M165.6 670.0h0M183.0 673.0h0M198.5 686.4h0M197.4 697.2h0M149.1 681.3h0M153.2 672.0h0"/><path d="M258.5 737.2h0M291.0 763.0h0M349.9 814.5h0M481.2 903.6h0M134.7 627.8h0M127.5 647.5h0M131.6 647.1h0M143.0 687.9h0M133.6 678.2h0M153.1 650.5h0M150.3 648.6h0M141.7 692.5h0M125.0 665.2h0M127.7 673.5h0M130.4 661.4h0M145.3 690.6h0M138.4 640.7h0M136.8 664.6h0M131.8 641.2h0M134.5 644.5h0M155.3 647.0h0M139.0 675.5h0M141.1 642.4h0M142.4 651.4h0M138.4 654.5h0M152.4 644.6h0M137.1 662.0h0M130.4 657.0h0M140.0 683.5h0M153.3 648.5h0M142.7 693.3h0M126.9 649.6h0M134.1 642.5h0M147.4 649.5h0M136.9 671.6h0M139.8 681.7h0M138.7 637.5h0M142.5 691.1h0M145.6 644.1h0M135.2 649.1h0M142.4 689.3h0M129.4 654.5h0M144.4 694.6h0M138.5 655.9h0M135.5 641.1h0M134.1 675.8h0M128.4 643.7h0M128.6 652.8h0M126.8 669.1h0M125.9 662.7h0M159.2 660.0h0M129.7 675.2h0M144.3 687.2h0M131.7 681.6h0M133.2 642.7h0M141.6 686.7h0M127.6 642.9h0M127.6 666.9h0M165.6 658.5h0M135.3 641.8h0M148.7 644.2h0M149.6 645.8h0M159.5 658.3h0M166.1 660.7h0M131.1 643.6h0M135.0 688.0h0M131.6 673.6h0M130.8 662.4h0M132.5 646.5h0M164.8 656.8h0M138.6 676.6h0M133.7 674.9h0M130.1 659.5h0M139.5 676.6h0M137.1 680.4h0M139.9 665.2h0M133.7 655.4h0M132.3 682.8h0M127.4 649.1h0M160.1 654.4h0M150.8 649.0h0M152.4 650.3h0M132.3 641.7h0M158.2 647.6h0M140.1 668.0h0M131.8 677.5h0M137.0 658.6h0M159.6 659.9h0M137.8 650.9h0M140.3 664.2h0M159.9 650.5h0M147.0 657.1h0M168.1 671.0h0M186.1 675.6h0M200.5 689.5h0M186.1 701.3h0M227.3 711.1h0M196.4 685.4h0"/><path d="M263.4 744.3h0M291.0 766.0h0M374.9 828.6h0M530.8 938.3h0M137.0 623.7h0M154.0 652.8h0M135.9 639.8h0M132.6 646.8h0M130.7 652.9h0M145.1 639.2h0M130.4 668.3h0M135.9 652.3h0M162.0 661.3h0M136.4 657.2h0M138.7 670.6h0M136.0 684.0h0M139.6 683.5h0M129.4 662.1h0M158.2 648.8h0M133.9 653.9h0M143.4 647.9h0M148.9 646.9h0M156.4 647.0h0M132.7 642.1h0M130.8 665.7h0M143.2 691.9h0M137.6 663.5h0M135.9 659.3h0M139.4 656.4h0M160.3 656.7h0M133.2 662.0h0M128.3 651.7h0M134.0 659.8h0M139.2 682.8h0M138.9 636.1h0M134.4 640.6h0M128.7 646.2h0M130.1 643.9h0M153.7 652.3h0M127.7 651.8h0M139.6 658.8h0M137.9 672.2h0M149.2 644.2h0M150.4 645.6h0M136.2 651.6h0M125.7 659.6h0M131.6 680.0h0M137.1 640.9h0M126.1 668.1h0M140.9 685.1h0M141.2 648.3h0M133.2 652.4h0M136.7 678.2h0M144.6 688.4h0M130.1 654.3h0M133.6 678.2h0M131.9 666.7h0M126.8 643.7h0M165.0 660.8h0M131.7 661.8h0M140.2 642.2h0M128.1 652.7h0M128.4 669.1h0M141.8 694.3h0M133.6 659.1h0M136.5 672.3h0M145.0 642.3h0M147.7 640.6h0M126.0 655.6h0M139.2 637.4h0M152.1 643.5h0M144.5 641.8h0M137.3 642.3h0M126.4 650.0h0M159.1 650.6h0M160.7 654.1h0M146.8 648.5h0M149.2 643.3h0M139.1 665.9h0M125.3 662.6h0M136.4 659.5h0M158.6 655.9h0M160.7 653.9h0M149.4 644.5h0M127.9 663.8h0M135.1 651.2h0M127.4 667.9h0M144.4 689.2h0M143.6 688.7h0M135.6 642.5h0M131.7 646.8h0M148.1 663.3h0M170.7 675.1h0M178.9 679.7h0M203.6 690.5h0M200.0 706.0h0M228.3 713.2h0"/><path d="M264.1 745.5h0M303.3 767.5h0M381.6 824.9h0M547.6 952.1h0M135.2 687.3h0M156.4 654.4h0M132.0 647.8h0M152.6 643.4h0M136.1 641.3h0M138.8 654.5h0M147.8 639.3h0M145.0 642.8h0M152.3 643.2h0M129.8 667.0h0M134.4 686.9h0M152.0 653.0h0M124.0 667.4h0M165.2 660.0h0M128.9 669.2h0M131.1 636.8h0M138.4 662.1h0M152.4 647.6h0M139.7 679.1h0M134.7 654.2h0M128.4 665.7h0M151.1 643.0h0M130.0 637.4h0M138.3 671.3h0M131.3 647.0h0M140.3 666.8h0M138.8 635.1h0M136.7 636.5h0M140.6 663.2h0M161.7 654.4h0M161.9 655.7h0M140.5 669.0h0M124.5 668.5h0M137.6 678.3h0M132.4 671.8h0M130.4 654.2h0M148.6 645.8h0M156.1 652.4h0M130.1 677.1h0M134.3 668.7h0M155.0 655.4h0M141.4 692.6h0M131.5 642.3h0M150.6 647.3h0M130.0 654.2h0M125.4 655.2h0M125.9 665.3h0M145.3 695.0h0M148.0 641.9h0M134.1 671.7h0M140.2 686.2h0M123.8 665.4h0M159.4 650.4h0M140.6 690.2h0M127.2 672.6h0M124.5 655.8h0M136.7 664.6h0M138.0 654.6h0M136.3 677.3h0M129.6 653.2h0M131.5 674.0h0M127.1 641.9h0M137.3 662.0h0M159.8 656.6h0M135.8 667.5h0M147.0 647.2h0M152.3 649.3h0M133.4 676.5h0M135.6 638.8h0M127.0 667.4h0M139.6 649.6h0M132.3 669.1h0M127.6 641.9h0M130.6 662.9h0M153.3 649.9h0M130.8 669.7h0M135.8 642.1h0M131.2 670.9h0M165.9 657.1h0M136.9 677.0h0M153.8 643.7h0M133.9 636.6h0M139.7 661.6h0M144.4 638.4h0M141.7 642.8h0M138.0 648.5h0M130.4 653.1h0M154.2 671.0h0M171.7 663.8h0M184.1 681.8h0M205.7 693.1h0M167.1 703.4h0M125.4 650.4h0"/><path d="M275.3 750.7h0M337.6 790.6h0M418.2 850.6h0M624.1 1011.8h0M140.1 635.3h0M154.5 650.6h0M131.5 636.7h0M131.1 638.2h0M145.2 638.5h0M138.0 677.3h0M143.8 640.9h0M131.7 677.6h0M144.1 694.8h0M130.9 638.4h0M132.2 657.8h0M136.4 680.7h0M128.2 648.2h0M141.7 639.7h0M132.5 647.1h0M128.2 665.3h0M141.8 639.5h0M139.6 681.7h0M130.3 672.5h0M131.1 657.5h0M163.5 655.5h0M126.4 661.4h0M138.6 678.6h0M153.4 651.4h0M133.4 642.1h0M134.4 674.0h0M125.7 665.2h0M141.9 683.7h0M134.6 634.5h0M128.9 656.7h0M139.4 684.1h0M135.0 649.9h0M139.7 684.3h0M134.5 673.6h0M137.2 678.9h0M137.0 634.9h0M166.5 658.4h0M138.3 685.8h0M141.5 682.5h0M136.5 651.7h0M142.9 649.7h0M137.6 674.3h0M137.7 649.1h0M129.3 643.1h0M146.4 640.8h0M141.5 682.1h0M136.2 685.1h0M158.1 653.6h0M134.1 646.3h0M140.2 667.2h0M153.7 649.7h0M139.9 672.5h0M140.9 657.0h0M138.0 681.2h0M127.0 643.2h0M127.5 671.3h0M126.2 660.9h0M132.3 653.3h0M151.4 648.7h0M143.5 646.5h0M150.5 645.9h0M128.6 652.8h0M125.7 656.2h0M159.5 661.2h0M137.7 678.0h0M142.4 646.8h0M139.8 690.6h0M142.1 641.8h0M152.5 652.5h0M150.6 651.0h0M127.9 669.7h0M136.8 672.8h0M134.9 653.4h0M137.0 650.2h0M156.5 649.2h0M159.7 658.4h0M139.3 667.9h0M137.0 664.5h0M165.0 658.5h0M143.1 650.2h0M136.4 653.6h0M130.2 656.3h0M135.0 662.9h0M145.6 690.4h0M148.3 639.8h0M159.5 652.6h0M145.8 642.0h0M159.4 667.9h0M173.3 662.8h0M190.2 679.2h0M208.8 696.7h0M167.1 688.5h0M126.5 661.7h0"/></g><rect x="99.8" y="597.0" width="549.2" height="435.4" fill="none" stroke="#000" stroke-width="1.8"/><path d="M154.6 1032.4v4.5M245.7 1032.4v4.5M336.8 1032.4v4.5M427.9 1032.4v4.5M519.0 1032.4v4.5M610.1 1032.4v4.5M99.8 1011.9h-4.5M99.8 939.1h-4.5M99.8 866.3h-4.5M99.8 793.5h-4.5M99.8 720.7h-4.5M99.8 647.9h-4.5" stroke="#000" stroke-width="1.4" fill="none"/><text class="t" x="134.49" y="1059.95" font-size="25.30">0.0</text><text class="t" x="225.76" y="1059.95" font-size="25.30">2.5</text><text class="t" x="316.55" y="1059.95" font-size="25.30">5.0</text><text class="t" x="407.85" y="1059.95" font-size="25.30">7.5</text><text class="t" x="490.28" y="1059.95" font-size="25.30">10.0</text><text class="t" x="581.65" y="1059.95" font-size="25.30">12.5</text><text class="t" x="37.69" y="1021.11" font-size="25.30">−10</text><text class="t" x="53.83" y="948.31" font-size="25.30">−8</text><text class="t" x="53.70" y="875.51" font-size="25.30">−6</text><text class="t" x="53.52" y="802.72" font-size="25.30">−4</text><text class="t" x="54.64" y="730.09" font-size="25.30">−2</text><text class="t" x="74.98" y="657.11" font-size="25.30">0</text><text class="t" x="232.52" y="1088.55" font-size="25.343">First Latent Dimension</text><text class="t" transform="translate(29.35 975.66) rotate(-90)" font-size="25.102">Second Latent Dimension</text><rect x="531.2" y="939.3" width="105.7" height="80.9" rx="3.5" ry="3.5" fill="#fff" fill-opacity="0.8" stroke="#cccccc" stroke-width="1.4"/><circle cx="566.2" cy="962.0" r="2" fill="#1f77b4"/><circle cx="566.2" cy="998.9" r="2" fill="#ff7f0e"/><text class="t" x="610.83" y="968.35" font-size="25.30">0</text><text class="t" x="610.83" y="1005.20" font-size="25.30">1</text><text class="cb" x="81.65" y="1158.00" font-size="33.00">(d)</text><text class="cs" x="131.95" y="1158.00" font-size="35.762">Using MMD-VAE learned LFs</text></g>
<g><g stroke="#1f77b4" stroke-width="3.8" stroke-linecap="round" fill="none" stroke-opacity="0.9"><path d="M1030.3 631.6h0M1024.0 627.3h0M1024.4 634.2h0M1025.6 627.3h0M1031.7 629.8h0M1031.0 620.1h0M1034.2 627.0h0M1028.5 625.7h0M1026.4 623.9h0M1021.3 627.7h0M1020.4 623.1h0M953.8 665.8h0M952.9 669.8h0M949.6 675.8h0M955.4 668.6h0M942.6 676.7h0M935.2 679.2h0M944.0 670.0h0M937.6 682.8h0M938.3 656.7h0M964.4 646.6h0M986.6 677.2h0M983.9 680.4h0M985.2 672.9h0M980.4 674.3h0M987.2 675.3h0M983.5 670.3h0M975.8 674.5h0M980.5 674.7h0M867.5 812.3h0M866.2 799.0h0M868.7 808.9h0M866.4 806.5h0M874.6 807.3h0M877.6 807.8h0M873.7 803.2h0M870.2 803.3h0M871.8 800.5h0M797.5 878.7h0M795.9 880.5h0M795.6 879.0h0M798.2 882.1h0M797.4 882.8h0M789.2 887.2h0M794.4 881.3h0M789.2 878.7h0M814.7 858.6h0M814.7 852.7h0M808.8 863.2h0M813.0 859.0h0M809.6 864.0h0M809.4 862.7h0M808.6 861.5h0M837.1 831.9h0M833.9 829.4h0M833.7 827.0h0M830.7 832.8h0M834.1 825.9h0M830.1 828.6h0M830.3 832.7h0M837.6 818.9h0M932.7 959.8h0M929.5 959.3h0M927.9 964.0h0M918.8 960.9h0M925.8 959.0h0M920.6 963.0h0M930.0 959.6h0M930.8 962.0h0M925.7 968.9h0M930.3 972.7h0M1095.2 995.7h0M1096.4 1000.5h0M1095.2 991.1h0M1095.4 993.7h0M1095.8 992.8h0M1107.8 994.3h0M1103.0 1004.7h0M1105.5 993.0h0M1107.3 992.8h0M1104.1 1004.6h0M1110.2 996.1h0"/><path d="M1035.4 631.4h0M1033.5 625.7h0M1035.1 622.2h0M1033.9 625.3h0M1026.4 629.0h0M1033.9 626.4h0M1021.8 628.9h0M1035.9 625.3h0M1037.2 625.2h0M1024.6 624.4h0M1037.2 616.4h0M956.1 666.6h0M950.6 669.3h0M935.9 678.6h0M939.9 678.6h0M945.2 672.4h0M943.9 679.3h0M950.5 667.1h0M954.1 666.4h0M945.8 652.9h0M970.8 669.7h0M985.9 675.4h0M978.4 676.0h0M982.3 672.4h0M977.9 673.7h0M983.0 672.6h0M981.5 677.7h0M984.1 677.8h0M979.7 677.1h0M867.5 807.4h0M867.3 815.4h0M867.5 796.9h0M872.7 806.0h0M870.8 807.3h0M870.6 809.7h0M871.6 805.1h0M875.1 808.8h0M860.7 814.8h0M796.3 880.4h0M800.4 876.1h0M789.8 881.7h0M790.4 880.3h0M789.3 882.7h0M794.3 875.1h0M788.3 883.6h0M796.3 883.9h0M807.9 859.4h0M807.4 859.4h0M810.5 860.9h0M813.5 862.9h0M805.8 865.1h0M812.6 863.2h0M811.1 861.8h0M838.2 827.0h0M835.3 828.9h0M828.2 830.7h0M834.9 832.8h0M836.1 827.1h0M831.2 834.4h0M834.6 821.1h0M930.9 961.9h0M928.4 962.9h0M929.5 965.1h0M928.3 962.9h0M921.0 962.5h0M926.0 960.3h0M928.9 956.8h0M917.4 962.4h0M926.7 957.8h0M923.2 966.0h0M925.8 968.1h0M1096.9 997.8h0M1100.2 1007.2h0M1094.4 993.4h0M1098.4 1004.7h0M1097.2 1003.9h0M1104.4 1004.1h0M1103.6 1001.5h0M1108.4 988.2h0M1106.4 995.5h0M1104.8 1001.5h0M1111.7 995.1h0"/><path d="M1030.9 631.7h0M1037.9 623.4h0M1033.5 632.1h0M1033.9 626.1h0M1027.3 622.3h0M1035.0 628.0h0M1034.6 624.8h0M1023.3 623.8h0M1029.2 634.2h0M1022.9 633.2h0M1038.3 618.6h0M946.4 671.2h0M947.9 669.8h0M950.9 665.0h0M953.3 668.9h0M949.6 666.5h0M947.2 674.5h0M944.6 670.9h0M943.9 674.6h0M947.6 651.1h0M989.8 666.0h0M986.6 678.9h0M982.4 680.1h0M987.8 675.8h0M984.1 675.2h0M986.7 678.9h0M980.6 673.3h0M983.1 677.5h0M985.6 678.5h0M868.9 811.3h0M865.8 811.5h0M865.1 805.2h0M871.2 804.9h0M876.2 808.8h0M870.2 807.7h0M875.0 808.8h0M869.5 806.8h0M876.8 809.6h0M790.0 878.3h0M789.9 879.9h0M790.9 878.4h0M800.3 879.1h0M797.5 878.5h0M794.7 880.0h0M791.7 881.7h0M793.8 878.9h0M811.1 858.2h0M815.3 857.1h0M812.3 858.7h0M815.1 860.5h0M810.9 858.9h0M811.9 860.3h0M813.5 860.3h0M834.9 820.5h0M837.8 824.3h0M833.6 819.6h0M833.4 836.0h0M830.8 830.0h0M836.3 825.0h0M839.5 810.4h0M932.2 964.6h0M926.6 961.8h0M932.3 961.3h0M922.1 961.2h0M930.3 961.9h0M929.5 964.3h0M922.4 963.6h0M927.9 967.7h0M926.0 958.0h0M925.9 967.6h0M926.2 969.3h0M1093.0 991.4h0M1093.1 989.9h0M1094.2 991.7h0M1098.0 1007.0h0M1094.8 990.7h0M1103.4 1003.7h0M1103.4 998.6h0M1107.2 994.2h0M1104.3 1001.5h0M1112.4 994.4h0M1113.4 994.6h0"/><path d="M1032.4 624.4h0M1032.5 626.7h0M1020.8 633.3h0M1026.2 629.8h0M1037.5 623.5h0M1022.3 627.4h0M1031.0 624.5h0M1022.6 628.1h0M1036.9 624.0h0M1027.1 633.0h0M1012.2 638.8h0M951.3 670.6h0M950.1 665.8h0M949.2 672.0h0M951.2 667.8h0M945.5 675.0h0M946.7 668.9h0M939.7 681.3h0M954.6 662.4h0M949.5 654.8h0M979.4 679.2h0M986.8 670.4h0M983.0 675.8h0M984.3 677.1h0M984.7 675.9h0M979.9 678.0h0M982.9 671.7h0M984.0 676.9h0M983.5 672.7h0M868.6 808.5h0M869.2 810.8h0M863.7 802.0h0M870.4 808.8h0M875.1 807.7h0M867.9 808.2h0M867.7 808.2h0M870.0 805.4h0M865.6 794.7h0M790.2 887.9h0M794.9 881.0h0M793.8 877.3h0M796.3 879.7h0M798.1 876.4h0M801.2 878.1h0M794.7 881.4h0M792.4 879.1h0M811.3 857.4h0M809.6 855.8h0M809.2 861.1h0M810.4 864.0h0M815.9 857.0h0M815.3 853.6h0M808.3 865.0h0M835.1 827.0h0M829.3 828.6h0M834.9 829.8h0M838.4 828.4h0M826.9 831.9h0M835.4 824.8h0M822.7 843.9h0M936.4 961.4h0M927.5 959.2h0M929.8 958.8h0M917.4 959.8h0M932.2 959.6h0M930.7 960.4h0M933.3 957.7h0M924.5 964.5h0M924.1 968.3h0M926.3 968.9h0M924.0 967.7h0M1099.7 1006.0h0M1097.7 1001.9h0M1093.2 991.3h0M1097.3 996.5h0M1098.5 1002.6h0M1105.7 995.1h0M1107.6 990.8h0M1101.6 1006.0h0M1106.4 993.5h0M1108.8 997.6h0M1112.1 993.5h0"/><path d="M1036.0 623.6h0M1020.0 631.7h0M1037.5 623.7h0M1030.7 626.3h0M1034.2 623.2h0M1030.1 624.8h0M1025.9 628.8h0M1032.2 625.5h0M1022.1 634.4h0M1031.2 626.7h0M946.9 675.1h0M953.6 666.0h0M937.1 677.8h0M944.1 670.6h0M937.2 678.9h0M943.6 673.5h0M951.8 667.0h0M950.3 672.4h0M954.4 663.9h0M951.4 655.9h0M985.7 675.7h0M982.5 678.4h0M984.5 673.8h0M978.6 677.7h0M979.9 675.5h0M980.5 674.4h0M975.9 674.3h0M984.9 672.0h0M984.8 675.5h0M867.7 808.0h0M864.3 795.8h0M865.4 808.4h0M868.6 807.3h0M866.2 802.1h0M872.4 803.7h0M869.6 806.8h0M868.7 808.1h0M796.3 878.4h0M796.2 873.4h0M795.1 883.8h0M796.9 873.8h0M792.1 879.7h0M797.0 882.6h0M794.0 879.8h0M791.4 882.3h0M790.9 885.7h0M816.2 859.7h0M815.9 856.4h0M813.6 861.9h0M808.4 862.8h0M814.5 861.0h0M810.4 861.1h0M835.9 826.2h0M833.1 828.5h0M833.9 825.8h0M834.5 827.6h0M826.9 829.5h0M833.0 833.4h0M833.4 830.2h0M820.8 846.2h0M917.7 959.9h0M933.1 957.3h0M925.1 961.0h0M935.1 964.7h0M934.1 957.9h0M924.9 961.6h0M930.5 964.0h0M929.7 965.6h0M925.6 965.6h0M929.7 970.6h0M927.6 969.4h0M1095.4 998.8h0M1096.9 993.5h0M1098.5 1002.3h0M1098.6 1005.7h0M1096.8 998.4h0M1103.6 1005.9h0M1108.5 991.6h0M1104.3 999.2h0M1106.6 992.9h0M1109.0 997.1h0"/><path d="M1021.4 628.5h0M1033.1 630.9h0M1030.7 620.3h0M1032.8 623.2h0M1022.4 628.7h0M1026.0 623.3h0M1024.3 626.0h0M1024.7 623.4h0M1026.1 630.8h0M1030.2 624.9h0M943.7 675.9h0M946.0 671.3h0M943.3 676.0h0M945.9 673.3h0M934.4 678.7h0M941.4 678.2h0M942.6 674.2h0M949.6 666.7h0M942.1 675.4h0M962.6 647.4h0M983.5 677.1h0M983.7 679.7h0M981.9 680.0h0M983.6 677.4h0M980.2 676.0h0M989.2 676.0h0M985.0 676.7h0M988.2 674.6h0M865.6 802.4h0M865.2 808.8h0M863.7 807.0h0M869.7 806.1h0M874.9 808.2h0M872.4 804.7h0M875.3 808.6h0M868.7 804.1h0M872.7 805.5h0M791.0 884.2h0M797.5 881.8h0M798.5 878.9h0M799.4 876.8h0M793.9 879.2h0M791.6 880.3h0M790.9 885.6h0M791.4 883.3h0M797.9 877.9h0M813.0 862.0h0M807.5 859.1h0M812.0 859.8h0M806.5 864.1h0M814.6 861.6h0M811.1 863.8h0M836.8 826.9h0M836.2 831.4h0M837.1 823.7h0M838.5 830.4h0M837.1 827.7h0M826.7 829.5h0M831.8 832.9h0M804.8 866.3h0M929.8 959.7h0M923.7 963.2h0M921.5 959.7h0M923.9 967.1h0M923.6 963.7h0M924.5 960.8h0M925.9 962.3h0M926.8 960.9h0M926.8 971.5h0M926.3 970.4h0M923.0 968.7h0M1097.0 1004.8h0M1098.7 1006.5h0M1096.5 995.7h0M1092.9 988.2h0M1095.2 994.8h0M1106.5 995.6h0M1103.0 1000.9h0M1108.7 988.1h0M1105.2 997.7h0M1111.1 996.4h0"/></g><g stroke="#ff7f0e" stroke-width="3.8" stroke-linecap="round" fill="none" stroke-opacity="0.9"><path d="M819.7 830.9h0M1108.0 1012.9h0M1183.0 742.4h0M1178.9 757.1h0M1177.6 763.8h0M1233.3 785.0h0M1179.8 751.9h0M1183.9 759.5h0M1258.0 735.2h0M1256.8 722.9h0M1234.0 783.3h0M1244.2 714.2h0M1211.8 789.4h0M1218.6 791.1h0M1258.4 754.1h0M1243.1 728.1h0M1204.1 771.1h0M1220.1 719.3h0M1168.4 750.1h0M1198.4 752.2h0M1209.2 788.9h0M1223.8 730.4h0M1247.8 718.4h0M1216.8 755.3h0M1189.3 734.9h0M1204.1 770.3h0M1167.5 753.0h0M1170.6 812.2h0M1201.7 812.2h0M1210.2 824.2h0M1195.2 823.8h0M1205.2 801.4h0M1145.5 763.3h0M1181.5 793.6h0M1133.5 781.8h0M1133.3 777.6h0M1142.1 804.2h0M1142.2 811.0h0M1133.9 803.6h0M1117.1 785.7h0M1111.5 790.2h0M1114.7 814.2h0M1155.4 809.0h0M1130.4 802.7h0M1208.2 805.0h0M1181.1 832.9h0M1203.1 806.4h0M1204.9 810.2h0M1124.3 788.9h0M1161.1 797.2h0M1244.5 839.2h0M1282.4 811.5h0M1259.2 845.5h0M1253.4 831.1h0M1251.2 798.3h0M1274.8 836.2h0M1284.5 814.4h0M1257.5 840.2h0M1235.0 816.2h0M1259.6 803.3h0M1271.2 805.2h0M1262.1 825.9h0M1097.9 863.8h0M1141.7 835.8h0M1098.3 882.5h0M1086.3 847.6h0M1120.1 891.4h0M1151.5 843.1h0M1081.6 882.1h0M1165.1 868.1h0M1106.3 889.1h0M1162.3 860.1h0M1185.3 866.8h0M1119.1 871.0h0M1143.6 879.9h0M1139.9 881.2h0M1181.9 881.6h0M1154.1 861.0h0M1087.3 875.4h0M1105.6 877.6h0M1140.9 878.0h0M1106.9 888.9h0M1134.2 874.5h0M1099.9 850.3h0M1167.6 907.6h0M1154.4 890.9h0M1177.5 921.2h0M1187.0 894.5h0M1160.5 918.5h0M1163.9 916.0h0M1147.6 888.7h0M1170.3 901.7h0M1148.7 891.8h0"/><path d="M794.7 869.3h0M1100.6 979.3h0M1227.7 716.0h0M1217.6 728.3h0M1195.4 760.0h0M1217.5 769.9h0M1169.3 759.4h0M1196.3 787.2h0M1244.1 771.0h0M1209.8 794.9h0M1170.3 757.7h0M1206.9 726.1h0M1213.3 788.2h0M1243.2 767.8h0M1208.8 741.6h0M1185.7 746.1h0M1202.9 756.5h0M1217.5 734.6h0M1235.9 757.3h0M1210.3 772.3h0M1237.3 722.7h0M1246.7 733.7h0M1189.2 735.6h0M1184.2 776.9h0M1204.0 780.3h0M1219.9 732.3h0M1186.8 737.4h0M1208.6 808.7h0M1180.6 806.2h0M1135.0 777.0h0M1158.0 772.3h0M1158.2 801.4h0M1193.2 828.6h0M1175.1 807.8h0M1126.4 776.9h0M1116.2 791.2h0M1170.3 806.5h0M1105.1 810.7h0M1148.8 785.8h0M1162.8 789.0h0M1128.5 786.5h0M1187.2 827.6h0M1186.6 796.7h0M1189.8 818.7h0M1180.0 816.3h0M1132.8 805.6h0M1145.3 824.8h0M1159.9 772.5h0M1142.0 814.0h0M1208.5 800.0h0M1273.9 817.1h0M1250.8 799.3h0M1257.5 820.2h0M1241.0 827.4h0M1256.0 792.4h0M1260.5 780.9h0M1239.3 850.8h0M1250.9 853.3h0M1277.9 838.8h0M1232.6 845.5h0M1273.8 835.6h0M1268.3 833.3h0M1162.8 845.4h0M1127.1 878.7h0M1122.8 886.1h0M1117.1 842.0h0M1130.9 833.0h0M1116.8 866.9h0M1093.6 886.0h0M1125.5 884.5h0M1118.9 845.2h0M1137.2 854.2h0M1089.2 850.6h0M1169.0 843.9h0M1154.4 879.7h0M1108.4 893.5h0M1126.7 851.5h0M1136.7 870.9h0M1104.4 830.6h0M1136.6 861.5h0M1180.2 878.5h0M1111.6 900.2h0M1081.0 880.1h0M1114.8 870.5h0M1191.8 920.6h0M1168.9 887.1h0M1182.4 882.4h0M1161.3 911.2h0M1163.5 908.8h0M1175.8 923.7h0M1154.7 910.2h0M1184.9 914.3h0M1173.1 919.5h0"/><path d="M802.2 873.0h0M1237.1 754.0h0M1187.8 736.3h0M1234.3 781.8h0M1207.6 759.4h0M1254.8 744.5h0M1243.9 726.1h0M1194.2 727.4h0M1220.2 768.0h0M1254.5 764.6h0M1191.2 757.9h0M1259.4 741.0h0M1229.7 722.4h0M1192.2 766.9h0M1203.3 780.9h0M1218.5 740.9h0M1229.4 740.5h0M1199.2 780.0h0M1212.4 726.5h0M1217.0 767.2h0M1253.4 727.4h0M1231.0 725.1h0M1178.5 759.9h0M1262.9 754.1h0M1205.8 756.8h0M1197.3 743.8h0M1228.0 762.3h0M1110.6 803.9h0M1171.5 790.6h0M1148.7 827.2h0M1107.6 801.5h0M1201.3 793.6h0M1128.3 807.8h0M1140.8 783.2h0M1148.5 830.6h0M1163.1 772.8h0M1124.4 794.9h0M1206.7 823.0h0M1168.1 827.7h0M1172.5 794.5h0M1192.2 828.2h0M1165.9 818.4h0M1186.5 829.3h0M1202.5 827.2h0M1158.4 806.9h0M1120.7 816.9h0M1181.5 781.5h0M1117.7 791.3h0M1140.8 777.3h0M1251.6 783.4h0M1252.7 789.9h0M1247.3 797.7h0M1278.5 823.6h0M1233.5 815.3h0M1272.1 806.5h0M1247.4 816.3h0M1252.9 850.0h0M1265.3 790.2h0M1245.2 796.0h0M1261.9 824.8h0M1257.9 834.1h0M1233.7 829.5h0M1146.4 852.3h0M1107.1 895.0h0M1108.6 897.5h0M1178.6 874.2h0M1118.7 854.1h0M1139.1 866.8h0M1182.4 883.1h0M1141.6 861.6h0M1100.1 830.4h0M1165.4 858.7h0M1158.2 845.2h0M1090.0 880.7h0M1111.2 834.1h0M1176.0 849.8h0M1160.1 885.0h0M1141.3 867.6h0M1098.5 852.1h0M1127.7 875.4h0M1136.8 834.1h0M1112.4 875.2h0M1098.6 883.1h0M1173.2 870.1h0M1173.1 896.0h0M1164.2 901.3h0M1177.2 907.6h0M1178.2 895.5h0M1179.2 915.2h0M1151.2 911.9h0M1170.7 906.3h0M1165.3 891.8h0M1137.5 890.1h0"/><path d="M1096.1 980.1h0M1258.7 747.5h0M1242.4 748.3h0M1230.2 749.2h0M1239.0 779.1h0M1216.3 726.3h0M1197.0 730.7h0M1205.2 720.4h0M1222.7 784.3h0M1191.0 756.9h0M1232.8 757.1h0M1172.5 747.9h0M1262.8 738.6h0M1214.7 777.3h0M1256.8 752.8h0M1221.4 796.5h0M1207.9 785.3h0M1256.9 766.6h0M1211.2 735.3h0M1241.0 747.6h0M1223.3 793.2h0M1237.1 781.4h0M1236.7 754.7h0M1239.6 738.2h0M1184.4 750.2h0M1240.1 770.3h0M1141.5 765.9h0M1130.5 771.8h0M1143.8 769.2h0M1160.3 824.3h0M1134.7 802.3h0M1195.6 799.6h0M1168.4 832.1h0M1164.4 790.8h0M1106.9 806.2h0M1150.0 774.3h0M1195.5 791.7h0M1144.9 779.7h0M1130.4 792.9h0M1172.6 826.5h0M1111.0 801.1h0M1119.6 816.5h0M1189.6 825.1h0M1111.5 807.0h0M1188.6 785.8h0M1206.5 830.2h0M1152.0 821.2h0M1139.8 774.9h0M1159.6 791.6h0M1257.8 785.5h0M1249.3 805.2h0M1241.7 803.0h0M1257.0 815.0h0M1272.2 813.6h0M1231.1 843.4h0M1265.9 817.5h0M1271.3 807.8h0M1247.8 785.3h0M1272.2 810.4h0M1259.9 831.2h0M1265.0 836.5h0M1256.8 840.3h0M1160.0 873.3h0M1160.3 881.7h0M1090.2 889.7h0M1124.9 868.2h0M1129.1 877.4h0M1133.6 843.9h0M1161.5 865.6h0M1108.1 830.7h0M1189.7 880.6h0M1116.7 892.1h0M1117.4 838.0h0M1108.0 884.3h0M1090.6 854.1h0M1086.8 874.1h0M1127.5 849.1h0M1122.9 849.1h0M1149.5 845.7h0M1153.8 850.7h0M1085.9 859.2h0M1118.8 862.0h0M1086.3 859.2h0M1174.4 911.5h0M1144.3 900.8h0M1158.3 920.4h0M1147.3 884.0h0M1149.7 902.1h0M1168.5 923.4h0M1166.7 904.7h0M1146.7 893.2h0M1172.2 914.3h0M1146.9 911.9h0"/><path d="M1108.0 981.2h0M1256.5 726.5h0M1222.2 769.9h0M1230.1 757.9h0M1209.9 793.7h0M1238.5 764.7h0M1189.9 783.6h0M1187.0 772.6h0M1234.0 735.8h0M1246.3 739.6h0M1222.5 735.5h0M1205.2 767.8h0M1195.3 755.7h0M1192.1 780.2h0M1217.8 752.8h0M1223.3 722.1h0M1227.4 780.0h0M1198.8 776.1h0M1222.7 752.7h0M1186.3 750.2h0M1190.0 761.7h0M1175.7 747.5h0M1215.6 727.4h0M1220.5 792.6h0M1185.5 759.0h0M1169.6 753.3h0M1132.5 794.7h0M1173.3 780.4h0M1171.3 816.0h0M1122.1 809.4h0M1138.3 805.1h0M1146.3 824.8h0M1141.7 823.2h0M1148.9 833.3h0M1130.5 785.9h0M1174.5 775.9h0M1193.3 817.7h0M1131.9 805.8h0M1167.8 801.2h0M1116.0 789.9h0M1165.7 808.3h0M1202.5 806.0h0M1113.0 818.4h0M1145.0 800.7h0M1183.8 799.3h0M1186.8 817.3h0M1185.5 828.6h0M1125.6 782.1h0M1133.2 793.1h0M1274.9 822.0h0M1247.3 790.7h0M1235.6 831.6h0M1258.6 812.9h0M1257.3 849.1h0M1271.6 819.3h0M1244.8 798.3h0M1260.4 782.0h0M1229.0 824.8h0M1243.7 845.4h0M1262.5 801.5h0M1243.5 817.8h0M1239.8 816.0h0M1130.6 834.5h0M1141.5 861.1h0M1152.1 842.8h0M1171.5 849.8h0M1148.4 854.5h0M1118.5 877.8h0M1150.3 861.4h0M1141.4 880.3h0M1079.6 877.7h0M1110.5 830.8h0M1156.3 837.6h0M1103.8 857.2h0M1115.3 896.7h0M1155.5 849.6h0M1172.8 864.4h0M1105.4 849.7h0M1156.4 850.0h0M1152.2 878.8h0M1116.0 866.6h0M1125.4 842.7h0M1093.0 862.4h0M1167.1 891.0h0M1154.9 896.5h0M1180.8 889.8h0M1169.6 910.2h0M1171.9 913.2h0M1183.7 908.9h0M1166.9 912.3h0M1167.2 928.6h0M1163.7 909.3h0M1183.6 906.5h0"/><path d="M1090.5 1008.4h0M1264.0 748.0h0M1252.7 759.1h0M1210.3 727.6h0M1245.8 733.3h0M1214.6 769.9h0M1190.8 777.1h0M1197.3 728.7h0M1230.2 756.0h0M1198.9 721.7h0M1189.0 779.6h0M1241.1 720.0h0M1218.1 778.3h0M1235.9 728.2h0M1188.0 738.4h0M1221.3 717.2h0M1218.8 766.5h0M1255.6 718.6h0M1196.7 777.7h0M1176.3 733.9h0M1247.2 752.7h0M1180.7 757.5h0M1210.3 784.5h0M1249.3 753.2h0M1229.9 776.8h0M1199.5 725.7h0M1110.3 792.5h0M1198.5 795.4h0M1105.8 806.0h0M1110.6 814.3h0M1176.7 794.0h0M1169.1 770.9h0M1150.7 798.4h0M1103.7 813.6h0M1125.1 801.8h0M1144.3 769.3h0M1110.6 796.3h0M1169.6 818.5h0M1154.2 805.8h0M1118.8 786.6h0M1143.5 822.0h0M1183.2 833.0h0M1180.9 823.6h0M1113.8 788.6h0M1182.2 825.0h0M1125.2 803.1h0M1155.1 791.7h0M1142.4 785.5h0M1143.5 797.9h0M1261.0 837.6h0M1250.3 814.9h0M1245.2 825.3h0M1228.3 824.4h0M1235.7 845.7h0M1258.5 823.6h0M1231.4 837.9h0M1261.7 843.9h0M1241.5 822.7h0M1234.2 832.6h0M1247.2 813.1h0M1247.8 830.3h0M1278.1 834.2h0M1114.0 891.3h0M1151.3 876.5h0M1096.4 857.7h0M1097.5 860.4h0M1093.5 845.7h0M1174.8 854.5h0M1115.4 893.8h0M1124.5 838.5h0M1121.5 853.0h0M1138.8 867.7h0M1124.1 877.1h0M1080.9 870.6h0M1090.3 843.3h0M1159.8 870.4h0M1113.0 852.0h0M1125.2 848.6h0M1142.0 868.2h0M1146.5 881.3h0M1136.2 870.8h0M1118.5 854.5h0M1168.6 877.9h0M1171.0 899.5h0M1189.1 919.7h0M1142.7 887.5h0M1178.9 897.6h0M1165.2 907.2h0M1138.8 889.3h0M1164.2 926.6h0M1172.7 894.4h0M1179.7 905.1h0M1150.1 896.2h0"/></g><rect x="763.0" y="597.0" width="549.0" height="435.4" fill="none" stroke="#000" stroke-width="1.8"/><path d="M848.1 1032.4v4.5M979.3 1032.4v4.5M1110.5 1032.4v4.5M1241.7 1032.4v4.5M763.0 1008.0h-4.5M763.0 913.2h-4.5M763.0 818.5h-4.5M763.0 723.8h-4.5M763.0 629.0h-4.5" stroke="#000" stroke-width="1.4" fill="none"/><text class="t" x="820.90" y="1059.95" font-size="25.30">−40</text><text class="t" x="952.10" y="1059.95" font-size="25.30">−20</text><text class="t" x="1102.45" y="1059.95" font-size="25.30">0</text><text class="t" x="1225.52" y="1059.95" font-size="25.30">20</text><text class="t" x="700.89" y="1017.21" font-size="25.30">−40</text><text class="t" x="700.89" y="922.46" font-size="25.30">−20</text><text class="t" x="738.18" y="827.71" font-size="25.30">0</text><text class="t" x="722.09" y="732.96" font-size="25.30">20</text><text class="t" x="722.09" y="638.21" font-size="25.30">40</text><text class="t" x="895.72" y="1088.75" font-size="25.334">First Latent Dimension</text><text class="t" transform="translate(692.45 975.66) rotate(-90)" font-size="25.102">Second Latent Dimension</text><rect x="1194.0" y="939.3" width="105.7" height="80.9" rx="3.5" ry="3.5" fill="#fff" fill-opacity="0.8" stroke="#cccccc" stroke-width="1.4"/><circle cx="1229.0" cy="962.0" r="2" fill="#1f77b4"/><circle cx="1229.0" cy="998.9" r="2" fill="#ff7f0e"/><text class="t" x="1273.63" y="968.35" font-size="25.30">0</text><text class="t" x="1273.63" y="1005.20" font-size="25.30">1</text><text class="cb" x="739.65" y="1158.00" font-size="33.00">(e)</text><text class="cs" x="788.34" y="1158.00" font-size="36.015">Using VAE+t-SNE learned LFs</text></g>
<g><g stroke="#1f77b4" stroke-width="3.8" stroke-linecap="round" fill="none" stroke-opacity="0.9"><path d="M1522.7 724.5h0M1520.7 724.2h0M1523.7 723.9h0M1523.7 725.2h0M1523.8 729.2h0M1521.6 732.6h0M1520.6 729.8h0M1519.2 721.5h0M1521.5 723.4h0M1508.6 768.9h0M1507.7 770.4h0M1499.6 778.9h0M1503.5 773.6h0M1504.8 772.9h0M1506.9 770.6h0M1504.8 769.5h0M1503.1 773.7h0M1505.4 769.8h0M1503.6 777.1h0M1461.2 788.7h0M1463.6 787.8h0M1467.6 787.2h0M1453.4 797.8h0M1459.1 792.7h0M1464.3 791.6h0M1461.0 790.0h0M1457.4 827.4h0M1462.2 821.0h0M1464.7 819.2h0M1461.4 822.8h0M1477.7 810.7h0M1466.8 815.7h0M1469.3 820.6h0M1471.8 825.7h0M1934.8 817.3h0M1936.8 812.3h0M1935.0 812.3h0M1934.9 812.6h0M1936.8 816.2h0M1939.7 815.2h0M1938.3 817.2h0M1938.2 810.7h0M1938.2 818.5h0M1935.6 809.6h0M1513.3 903.0h0M1519.1 906.2h0M1516.8 901.8h0M1513.3 903.5h0M1513.3 902.2h0M1539.5 940.0h0M1541.2 956.7h0M1540.0 943.8h0M1561.7 946.1h0M1560.3 943.3h0M1537.6 947.4h0M1559.6 951.0h0M1560.7 940.9h0M1560.5 945.4h0M1542.6 934.8h0M1540.2 931.2h0M1539.4 933.5h0M1578.6 993.9h0M1574.7 990.2h0M1562.6 989.4h0M1573.2 992.0h0M1585.3 992.8h0M1586.4 1004.5h0M1591.7 999.2h0M1572.0 1009.3h0M1590.9 997.0h0M1589.0 1001.4h0M1578.9 1006.1h0M1595.1 996.5h0"/><path d="M1520.4 724.9h0M1526.4 725.1h0M1523.6 730.1h0M1525.2 723.9h0M1517.8 735.4h0M1523.6 724.4h0M1519.9 725.8h0M1523.8 728.3h0M1522.7 726.7h0M1499.6 777.4h0M1509.6 763.0h0M1501.8 774.4h0M1512.6 764.8h0M1506.4 771.5h0M1499.0 774.9h0M1504.2 764.5h0M1501.2 777.4h0M1501.4 766.4h0M1505.8 767.5h0M1462.6 784.4h0M1451.8 794.7h0M1450.0 799.5h0M1460.4 786.7h0M1459.3 790.1h0M1454.7 790.1h0M1458.8 791.5h0M1478.2 811.8h0M1459.4 822.9h0M1468.7 815.6h0M1458.7 825.1h0M1470.3 815.2h0M1471.1 820.5h0M1467.7 816.4h0M1469.7 822.9h0M1936.6 818.4h0M1938.7 810.7h0M1940.6 820.2h0M1937.3 815.7h0M1937.3 817.7h0M1937.1 812.7h0M1935.7 817.4h0M1935.1 814.9h0M1938.7 818.5h0M1937.2 822.1h0M1512.7 903.7h0M1514.2 902.9h0M1510.8 906.0h0M1515.0 903.5h0M1521.3 903.3h0M1561.3 945.1h0M1552.4 958.5h0M1559.6 941.7h0M1537.6 950.2h0M1546.6 960.5h0M1557.2 955.3h0M1537.4 948.6h0M1537.2 942.6h0M1561.1 938.0h0M1547.6 933.9h0M1545.7 933.6h0M1541.6 931.9h0M1572.2 990.4h0M1565.0 988.8h0M1571.2 988.2h0M1564.5 991.6h0M1577.5 988.4h0M1589.5 998.9h0M1578.9 1004.7h0M1580.2 1003.8h0M1574.5 1007.0h0M1590.9 1000.0h0M1581.6 1007.5h0M1585.9 1002.0h0"/><path d="M1523.0 729.2h0M1523.8 728.5h0M1524.5 728.9h0M1522.9 718.6h0M1526.6 726.1h0M1523.1 732.0h0M1520.8 718.1h0M1525.5 725.4h0M1495.0 780.8h0M1513.3 764.4h0M1497.0 782.8h0M1505.4 768.9h0M1497.1 779.4h0M1502.7 776.5h0M1499.6 778.8h0M1502.6 777.5h0M1496.0 774.0h0M1502.9 770.1h0M1465.7 783.2h0M1459.5 794.6h0M1459.7 792.7h0M1457.5 792.2h0M1461.3 787.2h0M1460.1 790.9h0M1465.2 785.1h0M1456.9 790.8h0M1455.0 829.2h0M1471.6 814.2h0M1470.8 814.0h0M1471.1 816.7h0M1462.3 823.9h0M1473.1 824.5h0M1470.1 821.5h0M1938.2 824.9h0M1937.5 813.5h0M1935.2 821.3h0M1938.0 815.3h0M1935.6 811.7h0M1939.3 816.3h0M1937.2 818.1h0M1934.8 820.5h0M1938.9 811.3h0M1937.3 814.4h0M1518.6 899.6h0M1520.8 904.2h0M1517.3 906.9h0M1515.6 905.7h0M1521.2 906.5h0M1528.9 922.6h0M1537.9 936.2h0M1537.3 941.4h0M1545.8 955.4h0M1560.3 940.0h0M1543.0 933.7h0M1539.0 952.8h0M1547.8 958.3h0M1538.0 945.4h0M1539.0 933.3h0M1543.1 932.4h0M1546.1 934.2h0M1546.6 933.3h0M1573.4 994.7h0M1576.1 991.0h0M1578.5 990.5h0M1574.0 992.3h0M1572.3 995.0h0M1589.4 1001.4h0M1571.3 1010.6h0M1585.1 1003.6h0M1592.2 997.7h0M1578.7 1003.8h0M1587.7 1002.5h0"/><path d="M1521.9 719.1h0M1524.8 728.9h0M1525.3 729.3h0M1522.7 730.7h0M1521.6 732.1h0M1525.6 723.5h0M1527.1 732.3h0M1526.2 727.6h0M1507.8 771.0h0M1497.9 778.3h0M1508.4 768.1h0M1494.4 783.9h0M1508.5 768.7h0M1498.6 779.0h0M1505.8 769.8h0M1501.8 776.2h0M1503.7 769.1h0M1502.2 775.1h0M1466.6 783.0h0M1457.1 793.2h0M1456.3 794.8h0M1463.5 789.2h0M1460.0 789.0h0M1458.7 789.2h0M1459.0 792.4h0M1458.8 789.8h0M1462.5 822.6h0M1471.0 814.0h0M1457.5 824.4h0M1463.1 822.1h0M1471.3 815.5h0M1472.5 828.3h0M1469.4 820.2h0M1935.1 812.9h0M1934.8 807.5h0M1939.5 812.6h0M1937.6 814.8h0M1935.4 815.1h0M1933.5 815.9h0M1936.8 815.4h0M1936.5 817.6h0M1938.0 810.9h0M1936.3 807.2h0M1514.3 905.9h0M1513.0 908.0h0M1522.3 903.8h0M1518.8 906.1h0M1520.6 902.3h0M1529.7 923.4h0M1560.4 947.5h0M1541.9 956.8h0M1560.0 948.8h0M1539.4 952.1h0M1538.7 942.4h0M1561.4 940.8h0M1538.2 950.2h0M1560.7 941.2h0M1543.2 934.0h0M1541.3 934.3h0M1543.5 933.7h0M1547.2 932.3h0M1568.1 992.0h0M1568.3 991.2h0M1575.8 989.8h0M1570.8 990.9h0M1577.0 994.3h0M1578.1 1006.8h0M1577.7 1007.1h0M1577.2 1006.1h0M1579.3 1005.1h0M1575.0 1010.1h0M1573.2 1004.5h0"/><path d="M1525.7 720.4h0M1520.0 730.8h0M1519.1 724.6h0M1522.7 734.8h0M1521.7 726.8h0M1524.7 727.0h0M1518.5 729.5h0M1525.8 726.0h0M1511.8 764.3h0M1498.9 778.7h0M1498.1 783.4h0M1511.8 762.7h0M1505.2 775.3h0M1509.0 767.7h0M1503.5 777.5h0M1502.1 776.0h0M1507.5 773.2h0M1499.8 770.0h0M1452.1 800.3h0M1463.0 788.1h0M1465.1 785.3h0M1461.5 787.3h0M1462.1 788.4h0M1460.2 792.8h0M1459.3 793.4h0M1459.5 790.9h0M1460.2 824.7h0M1476.7 811.0h0M1476.0 813.8h0M1472.4 814.9h0M1458.7 824.5h0M1468.9 817.9h0M1465.3 814.6h0M1937.6 818.7h0M1935.6 814.0h0M1937.4 807.8h0M1935.1 806.5h0M1939.0 823.1h0M1938.4 814.9h0M1935.1 817.6h0M1936.5 818.3h0M1937.7 806.8h0M1938.0 811.0h0M1515.5 906.7h0M1518.3 905.6h0M1518.9 909.0h0M1523.9 906.6h0M1515.1 908.5h0M1561.0 974.5h0M1554.3 938.1h0M1542.2 956.7h0M1557.7 939.3h0M1556.6 954.9h0M1536.1 951.8h0M1541.1 957.5h0M1537.1 939.2h0M1539.4 949.0h0M1543.0 934.7h0M1544.2 934.8h0M1543.1 934.1h0M1568.6 995.2h0M1580.8 988.8h0M1574.6 993.8h0M1573.5 993.1h0M1573.2 991.2h0M1593.0 997.3h0M1579.2 1007.1h0M1572.8 1007.3h0M1582.0 1005.1h0M1577.5 1006.5h0M1593.6 999.7h0M1574.2 1004.8h0"/><path d="M1519.8 726.5h0M1519.8 724.9h0M1523.6 733.8h0M1521.4 727.6h0M1520.7 726.4h0M1523.0 729.0h0M1521.5 729.3h0M1522.0 726.4h0M1506.6 773.2h0M1497.1 779.0h0M1509.8 764.5h0M1504.1 773.8h0M1512.0 765.9h0M1501.2 778.6h0M1502.8 774.0h0M1505.5 773.7h0M1506.9 773.8h0M1501.4 768.7h0M1465.4 782.6h0M1463.1 782.7h0M1457.3 795.5h0M1457.3 794.7h0M1456.7 790.3h0M1461.0 789.0h0M1457.4 792.5h0M1461.9 822.5h0M1469.2 815.3h0M1462.8 822.8h0M1462.1 822.0h0M1472.3 816.7h0M1470.4 818.8h0M1470.6 821.7h0M1467.5 816.0h0M1938.4 815.7h0M1935.7 820.9h0M1940.5 814.4h0M1934.9 817.7h0M1941.3 817.2h0M1940.1 820.0h0M1938.6 821.4h0M1939.5 812.0h0M1938.1 810.7h0M1939.4 813.7h0M1517.9 904.0h0M1516.6 906.5h0M1508.9 908.2h0M1513.7 904.7h0M1513.5 908.6h0M1562.1 975.6h0M1555.9 938.6h0M1560.5 951.3h0M1551.4 962.0h0M1560.1 949.6h0M1543.1 960.1h0M1537.2 955.2h0M1538.1 948.5h0M1543.5 933.8h0M1545.9 932.9h0M1547.0 935.1h0M1545.6 934.0h0M1576.6 993.1h0M1574.5 995.1h0M1568.4 990.6h0M1572.1 990.5h0M1583.0 990.6h0M1575.0 1008.0h0M1588.8 999.6h0M1592.8 1000.6h0M1584.3 1002.0h0M1586.6 1003.7h0M1574.8 1005.1h0M1586.7 1002.6h0"/></g><g stroke="#ff7f0e" stroke-width="3.8" stroke-linecap="round" fill="none" stroke-opacity="0.9"><path d="M1660.5 667.7h0M1696.2 676.5h0M1677.5 683.2h0M1636.2 636.2h0M1628.8 633.3h0M1727.4 695.4h0M1662.4 654.7h0M1675.6 682.5h0M1688.1 685.3h0M1696.9 670.6h0M1629.1 632.3h0M1710.9 689.8h0M1702.7 685.1h0M1653.2 648.9h0M1690.8 689.8h0M1714.4 684.8h0M1692.7 687.5h0M1661.4 666.1h0M1653.2 659.1h0M1635.0 643.4h0M1708.6 683.6h0M1718.8 697.1h0M1645.8 646.7h0M1711.0 685.7h0M1673.8 661.7h0M1612.8 624.2h0M1677.7 667.0h0M1659.4 644.4h0M1659.9 647.0h0M1641.0 638.0h0M1732.4 735.9h0M1751.6 719.3h0M1733.3 736.0h0M1732.6 723.2h0M1725.2 734.4h0M1724.0 732.1h0M1725.1 739.4h0M1729.8 735.1h0M1724.5 736.1h0M1713.0 749.9h0M1755.7 743.0h0M1750.3 748.7h0M1748.9 734.8h0M1744.5 734.0h0M1744.8 736.8h0M1751.1 748.1h0M1749.4 733.8h0M1762.6 748.5h0M1680.5 771.6h0M1678.7 769.1h0M1697.8 763.6h0M1753.5 783.8h0M1769.2 779.9h0M1750.2 785.2h0M1738.4 781.6h0M1754.1 777.4h0M1742.6 790.6h0M1753.7 778.0h0M1715.3 779.6h0M1771.0 778.8h0M1767.0 789.1h0M1722.2 787.5h0M1742.2 782.9h0M1767.6 794.8h0M1754.3 817.1h0M1749.2 813.5h0M1750.1 829.8h0M1749.7 809.6h0M1751.1 803.3h0M1749.9 802.9h0M1756.6 806.8h0M1745.3 801.9h0M1724.2 816.5h0M1766.6 806.6h0M1692.3 843.3h0M1687.9 845.5h0M1682.3 853.6h0M1695.7 852.5h0M1706.6 845.4h0M1716.0 839.4h0M1714.4 840.5h0M1717.3 845.5h0M1677.4 870.4h0M1693.5 871.7h0M1700.6 878.4h0M1689.7 872.4h0M1695.4 873.6h0M1705.2 900.0h0M1698.4 876.5h0M1707.0 898.3h0M1721.5 897.3h0M1700.3 883.6h0M1713.9 890.1h0M1723.1 901.4h0M1690.1 876.3h0M1695.0 886.4h0M1743.8 859.4h0M1738.4 873.1h0M1739.2 890.1h0M1750.2 892.4h0M1737.3 876.9h0M1735.8 893.3h0M1747.1 889.1h0M1729.7 890.7h0M1750.5 897.6h0M1733.0 896.5h0M1735.9 894.8h0M1759.8 858.2h0M1779.9 871.0h0M1759.8 857.4h0M1770.0 868.8h0M1784.2 870.3h0M1761.3 884.3h0M1762.9 908.8h0M1780.2 911.0h0M1763.2 897.4h0M1768.2 889.4h0M1774.5 901.6h0M1761.5 905.1h0M1764.8 901.3h0M1750.5 888.8h0M1774.6 903.6h0M1776.1 907.2h0M1774.8 914.5h0M1694.6 862.9h0M1709.1 891.1h0M1744.4 884.3h0M1728.4 897.7h0M1739.3 896.2h0M1736.6 889.1h0"/><path d="M1644.4 644.3h0M1612.4 618.2h0M1627.6 635.8h0M1676.9 671.9h0M1610.4 619.7h0M1707.0 680.7h0M1679.5 673.8h0M1652.7 664.1h0M1604.5 615.4h0M1667.5 655.3h0M1706.2 678.2h0M1723.6 695.1h0M1637.7 637.1h0M1613.1 623.0h0M1719.0 700.0h0M1639.6 650.4h0M1727.1 709.4h0M1609.9 621.6h0M1642.2 637.5h0M1672.1 681.0h0M1665.6 674.2h0M1703.8 671.0h0M1672.8 659.7h0M1691.0 681.4h0M1724.0 702.2h0M1708.2 688.4h0M1637.4 633.6h0M1605.0 618.2h0M1638.1 649.6h0M1527.5 742.5h0M1710.0 743.1h0M1755.8 721.8h0M1723.7 733.1h0M1735.1 726.8h0M1745.8 716.9h0M1721.2 743.1h0M1744.7 718.8h0M1727.3 733.4h0M1728.6 725.6h0M1740.6 716.1h0M1752.4 738.5h0M1754.0 750.0h0M1753.5 744.1h0M1748.4 737.9h0M1754.3 734.0h0M1754.2 749.9h0M1743.8 730.2h0M1683.9 769.3h0M1682.1 774.3h0M1685.0 769.0h0M1757.9 796.6h0M1718.8 787.6h0M1765.2 792.2h0M1733.0 790.3h0M1742.8 779.8h0M1757.6 786.7h0M1760.6 794.5h0M1737.3 789.7h0M1727.0 791.7h0M1732.6 789.9h0M1721.4 796.3h0M1723.6 795.3h0M1752.3 782.2h0M1708.4 776.1h0M1750.3 822.3h0M1743.5 829.1h0M1741.8 827.9h0M1756.7 807.9h0M1742.2 819.5h0M1750.1 835.5h0M1747.3 805.3h0M1703.5 808.6h0M1722.2 820.5h0M1769.5 809.6h0M1681.1 850.9h0M1685.3 847.0h0M1691.7 846.3h0M1717.4 843.7h0M1704.1 843.2h0M1717.5 844.6h0M1709.9 843.4h0M1703.4 882.7h0M1704.5 897.7h0M1707.6 892.6h0M1682.4 868.0h0M1684.9 876.5h0M1702.8 892.8h0M1708.6 886.5h0M1678.9 870.8h0M1707.9 884.8h0M1705.2 898.0h0M1721.3 897.5h0M1687.3 873.2h0M1692.1 875.6h0M1688.7 875.7h0M1697.3 876.5h0M1735.1 854.4h0M1752.3 857.5h0M1733.0 875.1h0M1748.4 882.3h0M1746.4 887.3h0M1728.3 878.7h0M1741.4 890.1h0M1737.1 857.9h0M1729.1 880.1h0M1735.9 870.9h0M1780.0 872.3h0M1772.4 871.8h0M1759.1 866.9h0M1758.0 865.3h0M1784.2 864.7h0M1772.8 863.0h0M1759.7 897.7h0M1757.2 885.6h0M1770.9 907.1h0M1775.3 903.7h0M1756.3 894.3h0M1752.7 891.0h0M1771.1 913.1h0M1767.1 899.6h0M1761.5 892.2h0M1764.0 885.2h0M1758.3 890.5h0M1775.5 928.9h0M1698.5 862.9h0M1722.7 876.9h0M1728.2 899.0h0M1724.1 886.2h0M1735.2 877.4h0M1746.3 881.9h0"/><path d="M1659.2 647.1h0M1658.9 651.8h0M1695.7 690.3h0M1650.4 649.4h0M1702.6 685.6h0M1649.1 648.6h0M1702.8 684.6h0M1614.1 624.4h0M1632.1 639.6h0M1716.1 698.7h0M1659.2 663.8h0M1657.5 655.3h0M1649.5 641.1h0M1647.4 658.0h0M1715.5 695.3h0M1684.3 672.0h0M1666.4 659.3h0M1647.4 639.4h0M1647.5 635.9h0M1614.2 619.7h0M1716.9 690.9h0M1620.0 624.2h0M1684.4 683.3h0M1668.2 676.1h0M1623.0 630.0h0M1636.1 637.1h0M1688.5 676.4h0M1648.0 639.7h0M1671.0 675.1h0M1513.7 760.4h0M1716.4 750.1h0M1735.1 724.1h0M1725.9 741.1h0M1736.3 724.6h0M1738.8 729.3h0M1717.0 741.7h0M1724.3 744.6h0M1747.5 717.2h0M1721.0 737.5h0M1717.8 743.5h0M1756.7 739.6h0M1751.3 750.2h0M1747.9 729.2h0M1754.2 738.2h0M1751.8 749.8h0M1744.5 737.3h0M1761.6 739.6h0M1694.5 762.1h0M1697.9 766.4h0M1683.5 773.4h0M1749.0 783.2h0M1732.8 776.4h0M1752.1 790.3h0M1755.3 787.5h0M1727.3 791.6h0M1730.7 797.4h0M1746.6 784.7h0M1721.9 782.7h0M1754.6 793.1h0M1749.8 787.3h0M1741.0 797.5h0M1748.5 775.8h0M1719.5 779.2h0M1716.3 789.9h0M1746.5 801.7h0M1746.3 810.0h0M1749.3 819.0h0M1757.7 815.3h0M1759.9 811.1h0M1755.9 812.6h0M1741.4 820.0h0M1705.4 810.6h0M1712.3 832.3h0M1706.4 818.5h0M1687.2 848.9h0M1681.0 851.0h0M1680.4 845.9h0M1710.9 845.6h0M1710.8 841.0h0M1709.1 850.9h0M1718.4 841.6h0M1717.8 896.6h0M1702.9 894.0h0M1679.1 872.8h0M1697.2 886.8h0M1679.5 875.6h0M1707.1 892.2h0M1716.0 892.7h0M1717.0 901.9h0M1679.4 878.6h0M1723.1 897.3h0M1681.7 871.9h0M1699.9 895.4h0M1695.9 873.3h0M1711.3 883.1h0M1743.4 870.7h0M1745.2 890.0h0M1727.3 886.8h0M1743.3 878.1h0M1738.3 894.8h0M1726.3 879.2h0M1753.4 854.6h0M1748.0 869.6h0M1744.6 880.4h0M1743.3 857.2h0M1732.9 889.1h0M1760.2 864.1h0M1768.5 865.6h0M1780.1 871.3h0M1772.2 865.1h0M1774.0 870.6h0M1761.5 855.4h0M1773.1 897.3h0M1768.1 905.2h0M1781.9 922.7h0M1771.5 909.5h0M1761.7 899.6h0M1772.0 909.9h0M1753.3 888.9h0M1775.8 917.5h0M1767.3 910.0h0M1768.2 914.3h0M1759.8 887.4h0M1778.4 927.0h0M1736.8 895.1h0M1729.0 889.7h0M1735.2 892.4h0M1724.0 896.1h0M1720.2 889.3h0"/><path d="M1715.6 698.4h0M1630.9 635.1h0M1656.8 661.1h0M1639.6 640.0h0M1668.0 652.3h0M1659.4 659.6h0M1709.0 687.8h0M1644.8 655.6h0M1615.1 623.4h0M1632.7 641.0h0M1699.5 668.4h0M1732.6 702.4h0M1655.0 657.3h0M1673.4 666.8h0M1671.9 651.2h0M1662.7 665.0h0M1632.6 635.4h0M1634.5 637.4h0M1632.2 637.8h0M1690.6 684.1h0M1664.3 647.3h0M1669.4 657.6h0M1617.0 626.5h0M1669.4 678.8h0M1662.8 663.2h0M1610.6 619.5h0M1664.5 662.7h0M1645.4 656.2h0M1628.8 634.9h0M1950.1 818.2h0M1722.9 744.2h0M1724.0 733.0h0M1745.9 719.0h0M1716.5 743.5h0M1755.5 724.8h0M1734.4 728.1h0M1718.7 742.0h0M1733.0 732.4h0M1728.7 734.0h0M1731.1 736.0h0M1757.1 733.9h0M1744.1 739.4h0M1752.7 745.7h0M1746.5 732.4h0M1749.3 746.4h0M1755.1 732.7h0M1764.6 742.5h0M1690.9 767.5h0M1688.2 768.3h0M1699.6 762.4h0M1737.2 788.3h0M1760.5 789.2h0M1745.9 792.1h0M1752.8 800.1h0M1759.6 793.5h0M1723.3 788.9h0M1760.2 783.9h0M1723.0 783.0h0M1741.4 786.6h0M1747.5 789.6h0M1752.0 784.3h0M1752.1 778.0h0M1751.5 788.3h0M1769.5 800.7h0M1745.1 807.0h0M1751.0 823.2h0M1756.3 812.5h0M1746.5 803.6h0M1753.0 805.4h0M1755.2 806.8h0M1752.5 826.1h0M1710.4 820.5h0M1714.3 834.3h0M1718.3 823.4h0M1697.8 848.0h0M1693.3 847.5h0M1684.3 849.1h0M1707.7 844.1h0M1709.1 852.4h0M1710.2 842.0h0M1702.0 849.2h0M1718.2 892.6h0M1683.0 874.4h0M1692.6 886.9h0M1697.1 886.9h0M1726.1 904.2h0M1696.4 878.9h0M1686.6 876.8h0M1720.4 908.4h0M1702.7 893.3h0M1703.1 879.9h0M1716.9 902.1h0M1700.4 885.0h0M1699.4 883.3h0M1696.9 876.9h0M1744.6 900.1h0M1740.2 853.0h0M1743.4 860.3h0M1736.0 860.8h0M1738.9 872.0h0M1741.8 855.4h0M1735.8 874.2h0M1736.0 897.9h0M1746.4 860.5h0M1729.3 892.2h0M1747.9 867.4h0M1782.1 869.8h0M1758.9 864.1h0M1783.5 865.8h0M1757.8 866.4h0M1774.1 866.3h0M1763.3 898.8h0M1769.3 912.3h0M1757.3 902.1h0M1756.7 897.8h0M1779.3 912.0h0M1762.8 901.7h0M1750.2 893.1h0M1751.6 888.3h0M1767.0 913.3h0M1770.0 899.5h0M1750.4 894.5h0M1778.2 912.1h0M1783.3 922.0h0M1738.5 877.0h0M1722.5 890.9h0M1732.8 876.1h0M1725.6 884.5h0M1744.1 884.2h0"/><path d="M1654.6 659.7h0M1666.2 658.9h0M1703.1 674.9h0M1673.6 674.0h0M1680.2 685.3h0M1616.2 621.1h0M1660.6 671.6h0M1724.2 702.2h0M1685.7 677.0h0M1652.9 651.1h0M1639.7 633.6h0M1617.4 622.3h0M1690.2 670.6h0M1662.3 645.0h0M1720.4 707.9h0M1633.6 639.5h0M1675.2 655.4h0M1615.8 625.8h0M1660.5 660.8h0M1664.7 665.9h0M1677.4 664.5h0M1670.9 661.5h0M1655.1 659.0h0M1656.2 648.1h0M1641.2 632.9h0M1677.4 684.1h0M1697.7 682.7h0M1675.9 683.1h0M1695.8 667.8h0M1567.0 1012.1h0M1750.3 717.9h0M1756.9 722.9h0M1709.0 746.2h0M1726.7 731.8h0M1718.1 737.9h0M1719.4 743.9h0M1714.5 747.8h0M1732.2 724.6h0M1752.7 717.1h0M1729.8 729.2h0M1752.2 740.3h0M1750.0 753.1h0M1753.0 730.4h0M1750.7 743.5h0M1749.1 746.1h0M1755.1 739.0h0M1734.0 710.0h0M1692.7 760.9h0M1685.4 773.0h0M1688.7 761.7h0M1748.0 799.2h0M1739.1 792.9h0M1746.7 790.8h0M1744.9 792.2h0M1721.4 789.5h0M1714.3 780.6h0M1744.2 793.1h0M1743.6 789.0h0M1720.9 788.3h0M1755.8 788.5h0M1739.0 795.2h0M1764.3 792.9h0M1771.5 796.8h0M1752.8 819.4h0M1742.7 820.0h0M1759.4 806.8h0M1744.2 805.8h0M1750.0 821.7h0M1743.3 829.7h0M1750.8 804.3h0M1758.7 811.8h0M1713.3 823.4h0M1745.9 842.1h0M1711.4 828.3h0M1689.2 855.0h0M1697.3 849.9h0M1687.7 844.7h0M1708.1 842.3h0M1713.5 842.5h0M1712.5 839.7h0M1702.5 846.5h0M1706.6 878.3h0M1686.9 876.8h0M1678.8 867.0h0M1699.4 887.4h0M1694.7 873.5h0M1697.9 889.3h0M1688.0 870.3h0M1688.2 882.0h0M1692.4 884.9h0M1693.0 887.7h0M1682.1 874.2h0M1697.2 881.7h0M1720.5 903.6h0M1697.1 889.5h0M1736.5 882.9h0M1741.0 869.6h0M1750.2 874.1h0M1735.5 883.0h0M1735.1 900.1h0M1730.4 887.4h0M1738.3 884.5h0M1732.2 864.2h0M1735.0 879.9h0M1734.1 851.0h0M1739.3 853.2h0M1760.1 859.7h0M1762.4 861.6h0M1779.9 870.2h0M1775.0 867.2h0M1764.5 858.3h0M1754.6 889.7h0M1759.2 905.3h0M1764.8 914.8h0M1770.4 905.4h0M1767.4 912.4h0M1754.6 900.6h0M1763.2 913.5h0M1772.2 901.8h0M1774.2 924.0h0M1778.2 914.1h0M1758.9 893.8h0M1776.4 916.6h0M1685.7 884.6h0M1729.5 880.0h0M1724.1 870.7h0M1725.9 895.8h0M1731.1 880.4h0M1725.7 877.1h0"/><path d="M1680.3 674.6h0M1650.5 654.8h0M1675.2 667.5h0M1613.3 619.4h0M1637.8 649.5h0M1673.4 668.1h0M1608.9 617.0h0M1679.3 658.7h0M1724.8 696.2h0M1713.9 680.4h0M1675.6 682.0h0M1656.2 657.9h0M1726.8 693.3h0M1703.9 672.6h0M1704.8 696.7h0M1653.8 650.5h0M1703.0 693.0h0M1654.3 647.1h0M1724.0 698.8h0M1716.4 693.1h0M1610.1 621.5h0M1716.3 683.3h0M1714.5 696.9h0M1641.7 636.7h0M1713.5 700.4h0M1637.6 641.0h0M1725.8 693.6h0M1631.1 638.2h0M1687.4 683.8h0M1569.6 1007.3h0M1727.8 732.2h0M1722.9 745.9h0M1722.2 737.9h0M1735.9 730.6h0M1727.1 724.5h0M1740.9 717.9h0M1729.2 739.1h0M1727.7 739.2h0M1724.3 743.0h0M1755.7 715.4h0M1756.0 745.6h0M1743.9 735.5h0M1750.0 746.6h0M1743.8 737.4h0M1745.0 732.2h0M1753.2 730.6h0M1759.7 749.4h0M1691.4 768.6h0M1685.8 762.6h0M1689.2 767.4h0M1741.2 790.3h0M1747.6 787.3h0M1734.1 789.1h0M1748.4 772.3h0M1744.7 792.7h0M1719.8 789.3h0M1722.2 785.4h0M1729.9 794.6h0M1755.7 799.6h0M1725.2 798.7h0M1756.5 791.1h0M1766.7 795.2h0M1774.5 798.8h0M1753.1 804.7h0M1752.6 816.9h0M1755.5 817.9h0M1743.3 834.2h0M1755.6 807.5h0M1750.9 833.1h0M1756.1 814.3h0M1745.6 835.8h0M1716.3 822.4h0M1746.9 846.1h0M1692.6 848.5h0M1686.4 852.6h0M1679.8 855.7h0M1687.6 847.5h0M1710.9 848.1h0M1705.6 846.6h0M1707.2 836.0h0M1710.1 851.2h0M1686.0 879.6h0M1719.8 905.4h0M1698.8 882.4h0M1716.6 905.8h0M1687.1 877.3h0M1722.4 901.7h0M1676.4 873.3h0M1686.9 864.8h0M1695.8 885.2h0M1700.6 895.9h0M1700.2 876.3h0M1714.1 893.7h0M1684.3 869.9h0M1710.8 892.4h0M1734.3 871.1h0M1751.4 866.4h0M1735.8 872.4h0M1742.5 860.0h0M1745.7 858.1h0M1748.6 881.7h0M1731.2 885.3h0M1745.8 882.4h0M1738.0 887.5h0M1736.3 892.3h0M1744.9 857.7h0M1771.9 866.0h0M1769.9 870.4h0M1777.6 870.2h0M1764.3 864.7h0M1771.7 873.2h0M1764.9 912.1h0M1764.2 891.0h0M1771.0 925.1h0M1774.3 905.8h0M1771.2 900.4h0M1756.5 891.7h0M1773.4 914.2h0M1776.4 912.6h0M1766.2 886.9h0M1758.8 898.4h0M1769.6 901.5h0M1763.4 899.1h0M1684.7 861.9h0M1725.1 884.6h0M1722.0 878.0h0M1724.4 892.6h0M1713.0 888.6h0M1738.9 885.7h0"/></g><rect x="1426.0" y="597.0" width="549.0" height="435.4" fill="none" stroke="#000" stroke-width="1.8"/><path d="M1476.8 1032.4v4.5M1579.0 1032.4v4.5M1681.3 1032.4v4.5M1783.5 1032.4v4.5M1885.8 1032.4v4.5M1426.0 1002.4h-4.5M1426.0 907.8h-4.5M1426.0 813.1h-4.5M1426.0 718.5h-4.5M1426.0 623.8h-4.5" stroke="#000" stroke-width="1.4" fill="none"/><text class="t" x="1449.60" y="1059.95" font-size="25.30">−40</text><text class="t" x="1551.85" y="1059.95" font-size="25.30">−20</text><text class="t" x="1673.25" y="1059.95" font-size="25.30">0</text><text class="t" x="1767.37" y="1059.95" font-size="25.30">20</text><text class="t" x="1869.92" y="1059.95" font-size="25.30">40</text><text class="t" x="1363.89" y="1011.61" font-size="25.30">−40</text><text class="t" x="1363.89" y="916.96" font-size="25.30">−20</text><text class="t" x="1401.18" y="822.31" font-size="25.30">0</text><text class="t" x="1385.09" y="727.66" font-size="25.30">20</text><text class="t" x="1385.09" y="633.01" font-size="25.30">40</text><text class="t" x="1559.12" y="1088.95" font-size="25.298">First Latent Dimension</text><text class="t" transform="translate(1355.15 975.67) rotate(-90)" font-size="25.252">Second Latent Dimension</text><rect x="1857.1" y="939.3" width="105.7" height="80.9" rx="3.5" ry="3.5" fill="#fff" fill-opacity="0.8" stroke="#cccccc" stroke-width="1.4"/><circle cx="1892.1" cy="962.0" r="2" fill="#1f77b4"/><circle cx="1892.1" cy="998.9" r="2" fill="#ff7f0e"/><text class="t" x="1936.73" y="968.35" font-size="25.30">0</text><text class="t" x="1936.73" y="1005.20" font-size="25.30">1</text><text class="cb" x="1357.15" y="1158.00" font-size="33.00">(f)</text><text class="cs" x="1401.35" y="1158.00" font-size="35.582">Using MMD-VAE+t-SNE learned LFs</text></g>
</svg></body></html>
